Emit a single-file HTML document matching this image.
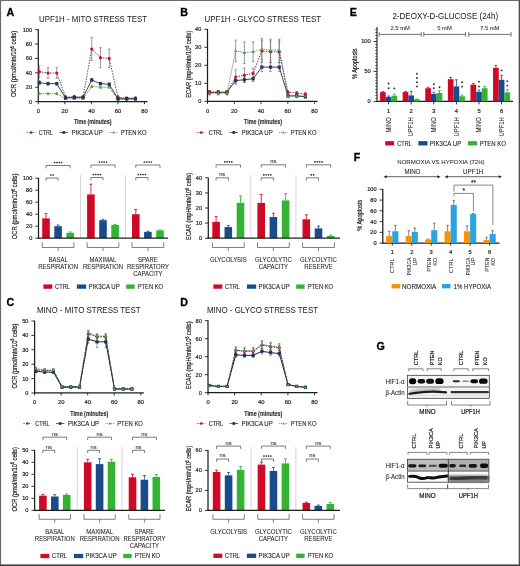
<!DOCTYPE html>
<html><head><meta charset="utf-8"><style>
html,body{margin:0;padding:0;background:#fff;width:520px;height:566px;overflow:hidden}
svg{display:block;filter:blur(0.3px)}
text{font-family:"Liberation Sans", sans-serif}
</style></head><body>
<svg width="520" height="566" viewBox="0 0 520 566" font-family='"Liberation Sans", sans-serif'><text x="6.6" y="15.85" font-size="10.7" stroke="#000" stroke-width="0.3" font-weight="bold" fill="#000">A</text>
<text x="39" y="22.15" font-size="8.2" stroke="#222" stroke-width="0.02" fill="#222" textLength="108" lengthAdjust="spacingAndGlyphs">UPF1H - MITO STRESS TEST</text>
<text x="0" y="0" transform="translate(16.3,97) rotate(-90)" font-size="7.5" font-weight="normal" fill="#1e1e1e" stroke="#1e1e1e" stroke-width="0.2" textLength="66.3" lengthAdjust="spacingAndGlyphs">OCR (pmol/min/10<tspan dy="-2.2" font-size="4.6">6</tspan><tspan dy="2.2"> cells)</tspan></text>
<line x1="38.3" y1="102.1" x2="38.3" y2="29.2" stroke="#1e1e1e" stroke-width="1.25"/>
<line x1="35.1" y1="101.6" x2="38.3" y2="101.6" stroke="#1e1e1e" stroke-width="0.9"/>
<text x="32.1" y="103.62" font-size="5.6" stroke="#262626" stroke-width="0.2" text-anchor="end" fill="#262626">0</text>
<line x1="35.1" y1="87.2" x2="38.3" y2="87.2" stroke="#1e1e1e" stroke-width="0.9"/>
<text x="32.1" y="89.22" font-size="5.6" stroke="#262626" stroke-width="0.2" text-anchor="end" fill="#262626">20</text>
<line x1="35.1" y1="72.8" x2="38.3" y2="72.8" stroke="#1e1e1e" stroke-width="0.9"/>
<text x="32.1" y="74.82" font-size="5.6" stroke="#262626" stroke-width="0.2" text-anchor="end" fill="#262626">40</text>
<line x1="35.1" y1="58.4" x2="38.3" y2="58.4" stroke="#1e1e1e" stroke-width="0.9"/>
<text x="32.1" y="60.42" font-size="5.6" stroke="#262626" stroke-width="0.2" text-anchor="end" fill="#262626">60</text>
<line x1="35.1" y1="44" x2="38.3" y2="44" stroke="#1e1e1e" stroke-width="0.9"/>
<text x="32.1" y="46.02" font-size="5.6" stroke="#262626" stroke-width="0.2" text-anchor="end" fill="#262626">80</text>
<line x1="35.1" y1="29.6" x2="38.3" y2="29.6" stroke="#1e1e1e" stroke-width="0.9"/>
<text x="32.1" y="31.62" font-size="5.6" stroke="#262626" stroke-width="0.2" text-anchor="end" fill="#262626">100</text>
<line x1="37.7" y1="101.6" x2="147.5" y2="101.6" stroke="#1e1e1e" stroke-width="1.25"/>
<line x1="38.3" y1="101.6" x2="38.3" y2="104.2" stroke="#1e1e1e" stroke-width="0.9"/>
<text x="38.3" y="112.89" font-size="5.8" stroke="#262626" stroke-width="0.2" text-anchor="middle" fill="#262626">0</text>
<line x1="64.85" y1="101.6" x2="64.85" y2="104.2" stroke="#1e1e1e" stroke-width="0.9"/>
<text x="64.85" y="112.89" font-size="5.8" stroke="#262626" stroke-width="0.2" text-anchor="middle" fill="#262626">20</text>
<line x1="91.4" y1="101.6" x2="91.4" y2="104.2" stroke="#1e1e1e" stroke-width="0.9"/>
<text x="91.4" y="112.89" font-size="5.8" stroke="#262626" stroke-width="0.2" text-anchor="middle" fill="#262626">40</text>
<line x1="117.95" y1="101.6" x2="117.95" y2="104.2" stroke="#1e1e1e" stroke-width="0.9"/>
<text x="117.95" y="112.89" font-size="5.8" stroke="#262626" stroke-width="0.2" text-anchor="middle" fill="#262626">60</text>
<line x1="144.5" y1="101.6" x2="144.5" y2="104.2" stroke="#1e1e1e" stroke-width="0.9"/>
<text x="144.5" y="112.89" font-size="5.8" stroke="#262626" stroke-width="0.2" text-anchor="middle" fill="#262626">80</text>
<line x1="39.3" y1="92.89" x2="39.3" y2="94.33" stroke="#5a5a5a" stroke-width="0.6"/>
<line x1="38.1" y1="92.89" x2="40.5" y2="92.89" stroke="#5a5a5a" stroke-width="0.6"/>
<line x1="38.1" y1="94.33" x2="40.5" y2="94.33" stroke="#5a5a5a" stroke-width="0.6"/>
<line x1="48.04" y1="92.89" x2="48.04" y2="94.33" stroke="#5a5a5a" stroke-width="0.6"/>
<line x1="46.84" y1="92.89" x2="49.24" y2="92.89" stroke="#5a5a5a" stroke-width="0.6"/>
<line x1="46.84" y1="94.33" x2="49.24" y2="94.33" stroke="#5a5a5a" stroke-width="0.6"/>
<line x1="56.78" y1="92.89" x2="56.78" y2="94.33" stroke="#5a5a5a" stroke-width="0.6"/>
<line x1="55.58" y1="92.89" x2="57.98" y2="92.89" stroke="#5a5a5a" stroke-width="0.6"/>
<line x1="55.58" y1="94.33" x2="57.98" y2="94.33" stroke="#5a5a5a" stroke-width="0.6"/>
<line x1="65.52" y1="98" x2="65.52" y2="99.44" stroke="#5a5a5a" stroke-width="0.6"/>
<line x1="64.32" y1="98" x2="66.72" y2="98" stroke="#5a5a5a" stroke-width="0.6"/>
<line x1="64.32" y1="99.44" x2="66.72" y2="99.44" stroke="#5a5a5a" stroke-width="0.6"/>
<line x1="74.26" y1="98" x2="74.26" y2="99.44" stroke="#5a5a5a" stroke-width="0.6"/>
<line x1="73.06" y1="98" x2="75.46" y2="98" stroke="#5a5a5a" stroke-width="0.6"/>
<line x1="73.06" y1="99.44" x2="75.46" y2="99.44" stroke="#5a5a5a" stroke-width="0.6"/>
<line x1="83" y1="98" x2="83" y2="99.44" stroke="#5a5a5a" stroke-width="0.6"/>
<line x1="81.8" y1="98" x2="84.2" y2="98" stroke="#5a5a5a" stroke-width="0.6"/>
<line x1="81.8" y1="99.44" x2="84.2" y2="99.44" stroke="#5a5a5a" stroke-width="0.6"/>
<line x1="91.74" y1="85.76" x2="91.74" y2="87.2" stroke="#5a5a5a" stroke-width="0.6"/>
<line x1="90.54" y1="85.76" x2="92.94" y2="85.76" stroke="#5a5a5a" stroke-width="0.6"/>
<line x1="90.54" y1="87.2" x2="92.94" y2="87.2" stroke="#5a5a5a" stroke-width="0.6"/>
<line x1="100.48" y1="86.48" x2="100.48" y2="87.92" stroke="#5a5a5a" stroke-width="0.6"/>
<line x1="99.28" y1="86.48" x2="101.68" y2="86.48" stroke="#5a5a5a" stroke-width="0.6"/>
<line x1="99.28" y1="87.92" x2="101.68" y2="87.92" stroke="#5a5a5a" stroke-width="0.6"/>
<line x1="109.22" y1="86.48" x2="109.22" y2="87.92" stroke="#5a5a5a" stroke-width="0.6"/>
<line x1="108.02" y1="86.48" x2="110.42" y2="86.48" stroke="#5a5a5a" stroke-width="0.6"/>
<line x1="108.02" y1="87.92" x2="110.42" y2="87.92" stroke="#5a5a5a" stroke-width="0.6"/>
<line x1="117.96" y1="98.72" x2="117.96" y2="100.16" stroke="#5a5a5a" stroke-width="0.6"/>
<line x1="116.76" y1="98.72" x2="119.16" y2="98.72" stroke="#5a5a5a" stroke-width="0.6"/>
<line x1="116.76" y1="100.16" x2="119.16" y2="100.16" stroke="#5a5a5a" stroke-width="0.6"/>
<line x1="126.7" y1="98.72" x2="126.7" y2="100.16" stroke="#5a5a5a" stroke-width="0.6"/>
<line x1="125.5" y1="98.72" x2="127.9" y2="98.72" stroke="#5a5a5a" stroke-width="0.6"/>
<line x1="125.5" y1="100.16" x2="127.9" y2="100.16" stroke="#5a5a5a" stroke-width="0.6"/>
<line x1="135.44" y1="98.72" x2="135.44" y2="100.16" stroke="#5a5a5a" stroke-width="0.6"/>
<line x1="134.24" y1="98.72" x2="136.64" y2="98.72" stroke="#5a5a5a" stroke-width="0.6"/>
<line x1="134.24" y1="100.16" x2="136.64" y2="100.16" stroke="#5a5a5a" stroke-width="0.6"/>
<line x1="39.3" y1="65.6" x2="39.3" y2="77.84" stroke="#5a5a5a" stroke-width="0.6"/>
<line x1="38.1" y1="65.6" x2="40.5" y2="65.6" stroke="#5a5a5a" stroke-width="0.6"/>
<line x1="38.1" y1="77.84" x2="40.5" y2="77.84" stroke="#5a5a5a" stroke-width="0.6"/>
<line x1="48.04" y1="67.62" x2="48.04" y2="78.42" stroke="#5a5a5a" stroke-width="0.6"/>
<line x1="46.84" y1="67.62" x2="49.24" y2="67.62" stroke="#5a5a5a" stroke-width="0.6"/>
<line x1="46.84" y1="78.42" x2="49.24" y2="78.42" stroke="#5a5a5a" stroke-width="0.6"/>
<line x1="56.78" y1="67.62" x2="56.78" y2="78.42" stroke="#5a5a5a" stroke-width="0.6"/>
<line x1="55.58" y1="67.62" x2="57.98" y2="67.62" stroke="#5a5a5a" stroke-width="0.6"/>
<line x1="55.58" y1="78.42" x2="57.98" y2="78.42" stroke="#5a5a5a" stroke-width="0.6"/>
<line x1="65.52" y1="95.48" x2="65.52" y2="98.36" stroke="#5a5a5a" stroke-width="0.6"/>
<line x1="64.32" y1="95.48" x2="66.72" y2="95.48" stroke="#5a5a5a" stroke-width="0.6"/>
<line x1="64.32" y1="98.36" x2="66.72" y2="98.36" stroke="#5a5a5a" stroke-width="0.6"/>
<line x1="74.26" y1="95.48" x2="74.26" y2="98.36" stroke="#5a5a5a" stroke-width="0.6"/>
<line x1="73.06" y1="95.48" x2="75.46" y2="95.48" stroke="#5a5a5a" stroke-width="0.6"/>
<line x1="73.06" y1="98.36" x2="75.46" y2="98.36" stroke="#5a5a5a" stroke-width="0.6"/>
<line x1="83" y1="95.84" x2="83" y2="98.72" stroke="#5a5a5a" stroke-width="0.6"/>
<line x1="81.8" y1="95.84" x2="84.2" y2="95.84" stroke="#5a5a5a" stroke-width="0.6"/>
<line x1="81.8" y1="98.72" x2="84.2" y2="98.72" stroke="#5a5a5a" stroke-width="0.6"/>
<line x1="91.74" y1="37.52" x2="91.74" y2="60.56" stroke="#5a5a5a" stroke-width="0.6"/>
<line x1="90.54" y1="37.52" x2="92.94" y2="37.52" stroke="#5a5a5a" stroke-width="0.6"/>
<line x1="90.54" y1="60.56" x2="92.94" y2="60.56" stroke="#5a5a5a" stroke-width="0.6"/>
<line x1="100.48" y1="47.6" x2="100.48" y2="67.76" stroke="#5a5a5a" stroke-width="0.6"/>
<line x1="99.28" y1="47.6" x2="101.68" y2="47.6" stroke="#5a5a5a" stroke-width="0.6"/>
<line x1="99.28" y1="67.76" x2="101.68" y2="67.76" stroke="#5a5a5a" stroke-width="0.6"/>
<line x1="109.22" y1="49.04" x2="109.22" y2="67.76" stroke="#5a5a5a" stroke-width="0.6"/>
<line x1="108.02" y1="49.04" x2="110.42" y2="49.04" stroke="#5a5a5a" stroke-width="0.6"/>
<line x1="108.02" y1="67.76" x2="110.42" y2="67.76" stroke="#5a5a5a" stroke-width="0.6"/>
<line x1="117.96" y1="95.84" x2="117.96" y2="98.72" stroke="#5a5a5a" stroke-width="0.6"/>
<line x1="116.76" y1="95.84" x2="119.16" y2="95.84" stroke="#5a5a5a" stroke-width="0.6"/>
<line x1="116.76" y1="98.72" x2="119.16" y2="98.72" stroke="#5a5a5a" stroke-width="0.6"/>
<line x1="126.7" y1="96.92" x2="126.7" y2="99.08" stroke="#5a5a5a" stroke-width="0.6"/>
<line x1="125.5" y1="96.92" x2="127.9" y2="96.92" stroke="#5a5a5a" stroke-width="0.6"/>
<line x1="125.5" y1="99.08" x2="127.9" y2="99.08" stroke="#5a5a5a" stroke-width="0.6"/>
<line x1="135.44" y1="96.92" x2="135.44" y2="99.08" stroke="#5a5a5a" stroke-width="0.6"/>
<line x1="134.24" y1="96.92" x2="136.64" y2="96.92" stroke="#5a5a5a" stroke-width="0.6"/>
<line x1="134.24" y1="99.08" x2="136.64" y2="99.08" stroke="#5a5a5a" stroke-width="0.6"/>
<line x1="39.3" y1="80.58" x2="39.3" y2="84.9" stroke="#5a5a5a" stroke-width="0.6"/>
<line x1="38.1" y1="80.58" x2="40.5" y2="80.58" stroke="#5a5a5a" stroke-width="0.6"/>
<line x1="38.1" y1="84.9" x2="40.5" y2="84.9" stroke="#5a5a5a" stroke-width="0.6"/>
<line x1="48.04" y1="82.23" x2="48.04" y2="85.11" stroke="#5a5a5a" stroke-width="0.6"/>
<line x1="46.84" y1="82.23" x2="49.24" y2="82.23" stroke="#5a5a5a" stroke-width="0.6"/>
<line x1="46.84" y1="85.11" x2="49.24" y2="85.11" stroke="#5a5a5a" stroke-width="0.6"/>
<line x1="56.78" y1="82.23" x2="56.78" y2="85.11" stroke="#5a5a5a" stroke-width="0.6"/>
<line x1="55.58" y1="82.23" x2="57.98" y2="82.23" stroke="#5a5a5a" stroke-width="0.6"/>
<line x1="55.58" y1="85.11" x2="57.98" y2="85.11" stroke="#5a5a5a" stroke-width="0.6"/>
<line x1="65.52" y1="97.28" x2="65.52" y2="98.72" stroke="#5a5a5a" stroke-width="0.6"/>
<line x1="64.32" y1="97.28" x2="66.72" y2="97.28" stroke="#5a5a5a" stroke-width="0.6"/>
<line x1="64.32" y1="98.72" x2="66.72" y2="98.72" stroke="#5a5a5a" stroke-width="0.6"/>
<line x1="74.26" y1="96.56" x2="74.26" y2="98" stroke="#5a5a5a" stroke-width="0.6"/>
<line x1="73.06" y1="96.56" x2="75.46" y2="96.56" stroke="#5a5a5a" stroke-width="0.6"/>
<line x1="73.06" y1="98" x2="75.46" y2="98" stroke="#5a5a5a" stroke-width="0.6"/>
<line x1="83" y1="96.56" x2="83" y2="98" stroke="#5a5a5a" stroke-width="0.6"/>
<line x1="81.8" y1="96.56" x2="84.2" y2="96.56" stroke="#5a5a5a" stroke-width="0.6"/>
<line x1="81.8" y1="98" x2="84.2" y2="98" stroke="#5a5a5a" stroke-width="0.6"/>
<line x1="91.74" y1="78.56" x2="91.74" y2="81.44" stroke="#5a5a5a" stroke-width="0.6"/>
<line x1="90.54" y1="78.56" x2="92.94" y2="78.56" stroke="#5a5a5a" stroke-width="0.6"/>
<line x1="90.54" y1="81.44" x2="92.94" y2="81.44" stroke="#5a5a5a" stroke-width="0.6"/>
<line x1="100.48" y1="82.16" x2="100.48" y2="85.04" stroke="#5a5a5a" stroke-width="0.6"/>
<line x1="99.28" y1="82.16" x2="101.68" y2="82.16" stroke="#5a5a5a" stroke-width="0.6"/>
<line x1="99.28" y1="85.04" x2="101.68" y2="85.04" stroke="#5a5a5a" stroke-width="0.6"/>
<line x1="109.22" y1="82.88" x2="109.22" y2="85.76" stroke="#5a5a5a" stroke-width="0.6"/>
<line x1="108.02" y1="82.88" x2="110.42" y2="82.88" stroke="#5a5a5a" stroke-width="0.6"/>
<line x1="108.02" y1="85.76" x2="110.42" y2="85.76" stroke="#5a5a5a" stroke-width="0.6"/>
<line x1="117.96" y1="98" x2="117.96" y2="99.44" stroke="#5a5a5a" stroke-width="0.6"/>
<line x1="116.76" y1="98" x2="119.16" y2="98" stroke="#5a5a5a" stroke-width="0.6"/>
<line x1="116.76" y1="99.44" x2="119.16" y2="99.44" stroke="#5a5a5a" stroke-width="0.6"/>
<line x1="126.7" y1="98" x2="126.7" y2="99.44" stroke="#5a5a5a" stroke-width="0.6"/>
<line x1="125.5" y1="98" x2="127.9" y2="98" stroke="#5a5a5a" stroke-width="0.6"/>
<line x1="125.5" y1="99.44" x2="127.9" y2="99.44" stroke="#5a5a5a" stroke-width="0.6"/>
<line x1="135.44" y1="98" x2="135.44" y2="99.44" stroke="#5a5a5a" stroke-width="0.6"/>
<line x1="134.24" y1="98" x2="136.64" y2="98" stroke="#5a5a5a" stroke-width="0.6"/>
<line x1="134.24" y1="99.44" x2="136.64" y2="99.44" stroke="#5a5a5a" stroke-width="0.6"/>
<polyline points="39.3,93.61 48.04,93.61 56.78,93.61 65.52,98.72 74.26,98.72 83,98.72 91.74,86.48 100.48,87.2 109.22,87.2 117.96,99.44 126.7,99.44 135.44,99.44" fill="none" stroke="#2f5f2f" stroke-width="0.85" stroke-dasharray="0.9,0.9"/>
<polyline points="39.3,71.72 48.04,73.02 56.78,73.02 65.52,96.92 74.26,96.92 83,97.28 91.74,49.04 100.48,57.68 109.22,58.4 117.96,97.28 126.7,98 135.44,98" fill="none" stroke="#5a2030" stroke-width="0.85" stroke-dasharray="1.5,1.2"/>
<polyline points="39.3,82.74 48.04,83.67 56.78,83.67 65.52,98 74.26,97.28 83,97.28 91.74,80 100.48,83.6 109.22,84.32 117.96,98.72 126.7,98.72 135.44,98.72" fill="none" stroke="#1a2238" stroke-width="0.85"/>
<path d="M39.3,91.91 L40.9,94.81 L37.7,94.81 Z" fill="#46a846"/>
<path d="M48.04,91.91 L49.64,94.81 L46.44,94.81 Z" fill="#46a846"/>
<path d="M56.78,91.91 L58.38,94.81 L55.18,94.81 Z" fill="#46a846"/>
<path d="M65.52,97.02 L67.12,99.92 L63.92,99.92 Z" fill="#46a846"/>
<path d="M74.26,97.02 L75.86,99.92 L72.66,99.92 Z" fill="#46a846"/>
<path d="M83,97.02 L84.6,99.92 L81.4,99.92 Z" fill="#46a846"/>
<path d="M91.74,84.78 L93.34,87.68 L90.14,87.68 Z" fill="#46a846"/>
<path d="M100.48,85.5 L102.08,88.4 L98.88,88.4 Z" fill="#46a846"/>
<path d="M109.22,85.5 L110.82,88.4 L107.62,88.4 Z" fill="#46a846"/>
<path d="M117.96,97.74 L119.56,100.64 L116.36,100.64 Z" fill="#46a846"/>
<path d="M126.7,97.74 L128.3,100.64 L125.1,100.64 Z" fill="#46a846"/>
<path d="M135.44,97.74 L137.04,100.64 L133.84,100.64 Z" fill="#46a846"/>
<circle cx="39.3" cy="71.72" r="1.6" fill="#c4102c"/>
<circle cx="48.04" cy="73.02" r="1.6" fill="#c4102c"/>
<circle cx="56.78" cy="73.02" r="1.6" fill="#c4102c"/>
<circle cx="65.52" cy="96.92" r="1.6" fill="#c4102c"/>
<circle cx="74.26" cy="96.92" r="1.6" fill="#c4102c"/>
<circle cx="83" cy="97.28" r="1.6" fill="#c4102c"/>
<circle cx="91.74" cy="49.04" r="1.6" fill="#c4102c"/>
<circle cx="100.48" cy="57.68" r="1.6" fill="#c4102c"/>
<circle cx="109.22" cy="58.4" r="1.6" fill="#c4102c"/>
<circle cx="117.96" cy="97.28" r="1.6" fill="#c4102c"/>
<circle cx="126.7" cy="98" r="1.6" fill="#c4102c"/>
<circle cx="135.44" cy="98" r="1.6" fill="#c4102c"/>
<rect x="37.7" y="81.14" width="3.2" height="3.2" fill="#1c3260" />
<rect x="46.44" y="82.07" width="3.2" height="3.2" fill="#1c3260" />
<rect x="55.18" y="82.07" width="3.2" height="3.2" fill="#1c3260" />
<rect x="63.92" y="96.4" width="3.2" height="3.2" fill="#1c3260" />
<rect x="72.66" y="95.68" width="3.2" height="3.2" fill="#1c3260" />
<rect x="81.4" y="95.68" width="3.2" height="3.2" fill="#1c3260" />
<rect x="90.14" y="78.4" width="3.2" height="3.2" fill="#1c3260" />
<rect x="98.88" y="82" width="3.2" height="3.2" fill="#1c3260" />
<rect x="107.62" y="82.72" width="3.2" height="3.2" fill="#1c3260" />
<rect x="116.36" y="97.12" width="3.2" height="3.2" fill="#1c3260" />
<rect x="125.1" y="97.12" width="3.2" height="3.2" fill="#1c3260" />
<rect x="133.84" y="97.12" width="3.2" height="3.2" fill="#1c3260" />
<text x="73.9" y="124.08" font-size="8" stroke="#333" stroke-width="0.2" font-weight="bold" fill="#333" textLength="37.5" lengthAdjust="spacingAndGlyphs">Time (minutes)</text>
<line x1="26.9" y1="132.5" x2="35.3" y2="132.5" stroke="#5a2030" stroke-width="0.7" stroke-dasharray="1.5,1.2"/>
<circle cx="31.1" cy="132.5" r="1.36" fill="#c4102c"/>
<text x="38.8" y="134.88" font-size="6.6" stroke="#222" stroke-width="0.1" fill="#222" textLength="14.3" lengthAdjust="spacingAndGlyphs">CTRL</text>
<line x1="59.6" y1="132.5" x2="68" y2="132.5" stroke="#1a2238" stroke-width="0.7"/>
<rect x="62.44" y="131.14" width="2.72" height="2.72" fill="#1c3260" />
<text x="71.5" y="134.88" font-size="6.6" stroke="#222" stroke-width="0.1" fill="#222" textLength="31.2" lengthAdjust="spacingAndGlyphs">PIK3CA UP</text>
<line x1="109.3" y1="132.5" x2="117.7" y2="132.5" stroke="#2f5f2f" stroke-width="0.7" stroke-dasharray="0.9,0.9"/>
<path d="M113.5,131.06 L114.86,133.52 L112.14,133.52 Z" fill="#46a846"/>
<text x="120.8" y="134.88" font-size="6.6" stroke="#222" stroke-width="0.1" fill="#222" textLength="25.7" lengthAdjust="spacingAndGlyphs">PTEN KO</text>
<text x="0" y="0" transform="translate(16.7,239.2) rotate(-90)" font-size="7.5" font-weight="normal" fill="#1e1e1e" stroke="#1e1e1e" stroke-width="0.2" textLength="65.7" lengthAdjust="spacingAndGlyphs">OCR (pmol/min/10<tspan dy="-2.2" font-size="4.6">6</tspan><tspan dy="2.2"> cells)</tspan></text>
<line x1="46" y1="213.6" x2="46" y2="218.4" stroke="#d00a26" stroke-width="0.85"/>
<line x1="44.5" y1="213.6" x2="47.5" y2="213.6" stroke="#d00a26" stroke-width="0.85"/>
<rect x="42.2" y="218.4" width="7.6" height="19.8" fill="#d00a26" />
<line x1="58.1" y1="225" x2="58.1" y2="226.2" stroke="#1a4c8c" stroke-width="0.85"/>
<line x1="56.6" y1="225" x2="59.6" y2="225" stroke="#1a4c8c" stroke-width="0.85"/>
<rect x="54.3" y="226.2" width="7.6" height="12" fill="#1a4c8c" />
<line x1="70.2" y1="231.9" x2="70.2" y2="232.8" stroke="#33b233" stroke-width="0.85"/>
<line x1="68.7" y1="231.9" x2="71.7" y2="231.9" stroke="#33b233" stroke-width="0.85"/>
<rect x="66.4" y="232.8" width="7.6" height="5.4" fill="#33b233" />
<polyline points="42.3,242.3 42.3,247.5 73.9,247.5 73.9,242.3" fill="none" stroke="#4a4a4a" stroke-width="0.7"/>
<line x1="58.1" y1="247.5" x2="58.1" y2="251" stroke="#4a4a4a" stroke-width="0.7"/>
<polyline points="46,168.3 46,165.5 70.2,165.5 70.2,168.3" fill="none" stroke="#5a5a5a" stroke-width="0.8"/>
<circle cx="54.58" cy="162.5" r="0.85" fill="#262626"/>
<circle cx="56.93" cy="162.5" r="0.85" fill="#262626"/>
<circle cx="59.27" cy="162.5" r="0.85" fill="#262626"/>
<circle cx="61.62" cy="162.5" r="0.85" fill="#262626"/>
<polyline points="46,180.8 46,178 58.1,178 58.1,180.8" fill="none" stroke="#5a5a5a" stroke-width="0.8"/>
<circle cx="50.88" cy="175" r="0.85" fill="#262626"/>
<circle cx="53.22" cy="175" r="0.85" fill="#262626"/>
<text x="58.1" y="261.7" font-size="6.4" stroke="#2a2a2a" stroke-width="0.08" text-anchor="middle" fill="#2a2a2a" textLength="19.19" lengthAdjust="spacingAndGlyphs">BASAL</text>
<text x="58.1" y="268.9" font-size="6.4" stroke="#2a2a2a" stroke-width="0.08" text-anchor="middle" fill="#2a2a2a" textLength="39.91" lengthAdjust="spacingAndGlyphs">RESPIRATION</text>
<line x1="90.9" y1="184.2" x2="90.9" y2="194.4" stroke="#d00a26" stroke-width="0.85"/>
<line x1="89.4" y1="184.2" x2="92.4" y2="184.2" stroke="#d00a26" stroke-width="0.85"/>
<rect x="87.1" y="194.4" width="7.6" height="43.8" fill="#d00a26" />
<line x1="103" y1="219.3" x2="103" y2="220.2" stroke="#1a4c8c" stroke-width="0.85"/>
<line x1="101.5" y1="219.3" x2="104.5" y2="219.3" stroke="#1a4c8c" stroke-width="0.85"/>
<rect x="99.2" y="220.2" width="7.6" height="18" fill="#1a4c8c" />
<line x1="115.1" y1="224.4" x2="115.1" y2="225" stroke="#33b233" stroke-width="0.85"/>
<line x1="113.6" y1="224.4" x2="116.6" y2="224.4" stroke="#33b233" stroke-width="0.85"/>
<rect x="111.3" y="225" width="7.6" height="13.2" fill="#33b233" />
<polyline points="87.2,242.3 87.2,247.5 118.8,247.5 118.8,242.3" fill="none" stroke="#4a4a4a" stroke-width="0.7"/>
<line x1="103" y1="247.5" x2="103" y2="251" stroke="#4a4a4a" stroke-width="0.7"/>
<line x1="80.55" y1="175" x2="80.55" y2="238.2" stroke="#c4c4c4" stroke-width="0.7"/>
<polyline points="90.9,167.8 90.9,165 115.1,165 115.1,167.8" fill="none" stroke="#5a5a5a" stroke-width="0.8"/>
<circle cx="99.47" cy="162" r="0.85" fill="#262626"/>
<circle cx="101.83" cy="162" r="0.85" fill="#262626"/>
<circle cx="104.17" cy="162" r="0.85" fill="#262626"/>
<circle cx="106.53" cy="162" r="0.85" fill="#262626"/>
<polyline points="90.9,180.3 90.9,177.5 103,177.5 103,180.3" fill="none" stroke="#5a5a5a" stroke-width="0.8"/>
<circle cx="93.42" cy="174.5" r="0.85" fill="#262626"/>
<circle cx="95.77" cy="174.5" r="0.85" fill="#262626"/>
<circle cx="98.12" cy="174.5" r="0.85" fill="#262626"/>
<circle cx="100.47" cy="174.5" r="0.85" fill="#262626"/>
<text x="103" y="261.7" font-size="6.4" stroke="#2a2a2a" stroke-width="0.08" text-anchor="middle" fill="#2a2a2a" textLength="26.79" lengthAdjust="spacingAndGlyphs">MAXIMAL</text>
<text x="103" y="268.9" font-size="6.4" stroke="#2a2a2a" stroke-width="0.08" text-anchor="middle" fill="#2a2a2a" textLength="39.91" lengthAdjust="spacingAndGlyphs">RESPIRATION</text>
<line x1="135.8" y1="209.4" x2="135.8" y2="214.2" stroke="#d00a26" stroke-width="0.85"/>
<line x1="134.3" y1="209.4" x2="137.3" y2="209.4" stroke="#d00a26" stroke-width="0.85"/>
<rect x="132" y="214.2" width="7.6" height="24" fill="#d00a26" />
<line x1="147.9" y1="231.3" x2="147.9" y2="231.9" stroke="#1a4c8c" stroke-width="0.85"/>
<line x1="146.4" y1="231.3" x2="149.4" y2="231.3" stroke="#1a4c8c" stroke-width="0.85"/>
<rect x="144.1" y="231.9" width="7.6" height="6.3" fill="#1a4c8c" />
<line x1="160" y1="229.92" x2="160" y2="230.4" stroke="#33b233" stroke-width="0.85"/>
<line x1="158.5" y1="229.92" x2="161.5" y2="229.92" stroke="#33b233" stroke-width="0.85"/>
<rect x="156.2" y="230.4" width="7.6" height="7.8" fill="#33b233" />
<polyline points="132.1,242.3 132.1,247.5 163.7,247.5 163.7,242.3" fill="none" stroke="#4a4a4a" stroke-width="0.7"/>
<line x1="147.9" y1="247.5" x2="147.9" y2="251" stroke="#4a4a4a" stroke-width="0.7"/>
<line x1="125.45" y1="175" x2="125.45" y2="238.2" stroke="#c4c4c4" stroke-width="0.7"/>
<polyline points="135.8,167.8 135.8,165 160,165 160,167.8" fill="none" stroke="#5a5a5a" stroke-width="0.8"/>
<circle cx="144.38" cy="162" r="0.85" fill="#262626"/>
<circle cx="146.72" cy="162" r="0.85" fill="#262626"/>
<circle cx="149.08" cy="162" r="0.85" fill="#262626"/>
<circle cx="151.43" cy="162" r="0.85" fill="#262626"/>
<polyline points="135.8,180.3 135.8,177.5 147.9,177.5 147.9,180.3" fill="none" stroke="#5a5a5a" stroke-width="0.8"/>
<circle cx="138.33" cy="174.5" r="0.85" fill="#262626"/>
<circle cx="140.68" cy="174.5" r="0.85" fill="#262626"/>
<circle cx="143.03" cy="174.5" r="0.85" fill="#262626"/>
<circle cx="145.38" cy="174.5" r="0.85" fill="#262626"/>
<text x="147.9" y="261.7" font-size="6.4" stroke="#2a2a2a" stroke-width="0.08" text-anchor="middle" fill="#2a2a2a" textLength="19.74" lengthAdjust="spacingAndGlyphs">SPARE</text>
<text x="147.9" y="268.9" font-size="6.4" stroke="#2a2a2a" stroke-width="0.08" text-anchor="middle" fill="#2a2a2a" textLength="42.01" lengthAdjust="spacingAndGlyphs">RESPIRATORY</text>
<text x="147.9" y="276.1" font-size="6.4" stroke="#2a2a2a" stroke-width="0.08" text-anchor="middle" fill="#2a2a2a" textLength="29.32" lengthAdjust="spacingAndGlyphs">CAPACITY</text>
<line x1="37.9" y1="238.2" x2="168" y2="238.2" stroke="#1e1e1e" stroke-width="1.25"/>
<line x1="38.5" y1="238.7" x2="38.5" y2="177.8" stroke="#1e1e1e" stroke-width="1.25"/>
<line x1="35.3" y1="238.2" x2="38.5" y2="238.2" stroke="#1e1e1e" stroke-width="0.9"/>
<text x="32.3" y="240.22" font-size="5.6" stroke="#262626" stroke-width="0.2" text-anchor="end" fill="#262626">0</text>
<line x1="35.3" y1="226.2" x2="38.5" y2="226.2" stroke="#1e1e1e" stroke-width="0.9"/>
<text x="32.3" y="228.22" font-size="5.6" stroke="#262626" stroke-width="0.2" text-anchor="end" fill="#262626">20</text>
<line x1="35.3" y1="214.2" x2="38.5" y2="214.2" stroke="#1e1e1e" stroke-width="0.9"/>
<text x="32.3" y="216.22" font-size="5.6" stroke="#262626" stroke-width="0.2" text-anchor="end" fill="#262626">40</text>
<line x1="35.3" y1="202.2" x2="38.5" y2="202.2" stroke="#1e1e1e" stroke-width="0.9"/>
<text x="32.3" y="204.22" font-size="5.6" stroke="#262626" stroke-width="0.2" text-anchor="end" fill="#262626">60</text>
<line x1="35.3" y1="190.2" x2="38.5" y2="190.2" stroke="#1e1e1e" stroke-width="0.9"/>
<text x="32.3" y="192.22" font-size="5.6" stroke="#262626" stroke-width="0.2" text-anchor="end" fill="#262626">80</text>
<line x1="35.3" y1="178.2" x2="38.5" y2="178.2" stroke="#1e1e1e" stroke-width="0.9"/>
<text x="32.3" y="180.22" font-size="5.6" stroke="#262626" stroke-width="0.2" text-anchor="end" fill="#262626">100</text>
<rect x="43.4" y="284.45" width="8.9" height="4.3" fill="#d00a26" />
<text x="55.1" y="288.98" font-size="6.6" stroke="#222" stroke-width="0.1" fill="#222" textLength="14.9" lengthAdjust="spacingAndGlyphs">CTRL</text>
<rect x="76.9" y="284.45" width="9.3" height="4.3" fill="#1a4c8c" />
<text x="88.5" y="288.98" font-size="6.6" stroke="#222" stroke-width="0.1" fill="#222" textLength="31.2" lengthAdjust="spacingAndGlyphs">PIK3CA UP</text>
<rect x="126.2" y="284.45" width="8.4" height="4.3" fill="#33b233" />
<text x="137.7" y="288.98" font-size="6.6" stroke="#222" stroke-width="0.1" fill="#222" textLength="25.4" lengthAdjust="spacingAndGlyphs">PTEN KO</text>
<text x="180.2" y="15.85" font-size="10.7" stroke="#000" stroke-width="0.3" font-weight="bold" fill="#000">B</text>
<text x="204.5" y="22.15" font-size="8.2" stroke="#222" stroke-width="0.02" fill="#222" textLength="116.7" lengthAdjust="spacingAndGlyphs">UPF1H - GLYCO STRESS TEST</text>
<text x="0" y="0" transform="translate(191.1,97.8) rotate(-90)" font-size="7.5" font-weight="normal" fill="#1e1e1e" stroke="#1e1e1e" stroke-width="0.2" textLength="67.1" lengthAdjust="spacingAndGlyphs">ECAR (mpH/min/10<tspan dy="-2.2" font-size="4.6">6</tspan><tspan dy="2.2"> cells)</tspan></text>
<line x1="207.5" y1="101.8" x2="207.5" y2="28.9" stroke="#1e1e1e" stroke-width="1.25"/>
<line x1="204.3" y1="101.3" x2="207.5" y2="101.3" stroke="#1e1e1e" stroke-width="0.9"/>
<text x="201.3" y="103.32" font-size="5.6" stroke="#262626" stroke-width="0.2" text-anchor="end" fill="#262626">0</text>
<line x1="204.3" y1="83.3" x2="207.5" y2="83.3" stroke="#1e1e1e" stroke-width="0.9"/>
<text x="201.3" y="85.32" font-size="5.6" stroke="#262626" stroke-width="0.2" text-anchor="end" fill="#262626">10</text>
<line x1="204.3" y1="65.3" x2="207.5" y2="65.3" stroke="#1e1e1e" stroke-width="0.9"/>
<text x="201.3" y="67.32" font-size="5.6" stroke="#262626" stroke-width="0.2" text-anchor="end" fill="#262626">20</text>
<line x1="204.3" y1="47.3" x2="207.5" y2="47.3" stroke="#1e1e1e" stroke-width="0.9"/>
<text x="201.3" y="49.32" font-size="5.6" stroke="#262626" stroke-width="0.2" text-anchor="end" fill="#262626">30</text>
<line x1="204.3" y1="29.3" x2="207.5" y2="29.3" stroke="#1e1e1e" stroke-width="0.9"/>
<text x="201.3" y="31.32" font-size="5.6" stroke="#262626" stroke-width="0.2" text-anchor="end" fill="#262626">40</text>
<line x1="206.9" y1="101.3" x2="317.6" y2="101.3" stroke="#1e1e1e" stroke-width="1.25"/>
<line x1="207.5" y1="101.3" x2="207.5" y2="103.9" stroke="#1e1e1e" stroke-width="0.9"/>
<text x="207.5" y="112.89" font-size="5.8" stroke="#262626" stroke-width="0.2" text-anchor="middle" fill="#262626">0</text>
<line x1="234.28" y1="101.3" x2="234.28" y2="103.9" stroke="#1e1e1e" stroke-width="0.9"/>
<text x="234.28" y="112.89" font-size="5.8" stroke="#262626" stroke-width="0.2" text-anchor="middle" fill="#262626">20</text>
<line x1="261.05" y1="101.3" x2="261.05" y2="103.9" stroke="#1e1e1e" stroke-width="0.9"/>
<text x="261.05" y="112.89" font-size="5.8" stroke="#262626" stroke-width="0.2" text-anchor="middle" fill="#262626">40</text>
<line x1="287.83" y1="101.3" x2="287.83" y2="103.9" stroke="#1e1e1e" stroke-width="0.9"/>
<text x="287.83" y="112.89" font-size="5.8" stroke="#262626" stroke-width="0.2" text-anchor="middle" fill="#262626">60</text>
<line x1="314.6" y1="101.3" x2="314.6" y2="103.9" stroke="#1e1e1e" stroke-width="0.9"/>
<text x="314.6" y="112.89" font-size="5.8" stroke="#262626" stroke-width="0.2" text-anchor="middle" fill="#262626">80</text>
<line x1="209.5" y1="90.5" x2="209.5" y2="94.1" stroke="#5a5a5a" stroke-width="0.6"/>
<line x1="208.3" y1="90.5" x2="210.7" y2="90.5" stroke="#5a5a5a" stroke-width="0.6"/>
<line x1="208.3" y1="94.1" x2="210.7" y2="94.1" stroke="#5a5a5a" stroke-width="0.6"/>
<line x1="218.22" y1="90.5" x2="218.22" y2="94.1" stroke="#5a5a5a" stroke-width="0.6"/>
<line x1="217.02" y1="90.5" x2="219.42" y2="90.5" stroke="#5a5a5a" stroke-width="0.6"/>
<line x1="217.02" y1="94.1" x2="219.42" y2="94.1" stroke="#5a5a5a" stroke-width="0.6"/>
<line x1="226.94" y1="90.5" x2="226.94" y2="94.1" stroke="#5a5a5a" stroke-width="0.6"/>
<line x1="225.74" y1="90.5" x2="228.14" y2="90.5" stroke="#5a5a5a" stroke-width="0.6"/>
<line x1="225.74" y1="94.1" x2="228.14" y2="94.1" stroke="#5a5a5a" stroke-width="0.6"/>
<line x1="235.66" y1="77.9" x2="235.66" y2="83.3" stroke="#5a5a5a" stroke-width="0.6"/>
<line x1="234.46" y1="77.9" x2="236.86" y2="77.9" stroke="#5a5a5a" stroke-width="0.6"/>
<line x1="234.46" y1="83.3" x2="236.86" y2="83.3" stroke="#5a5a5a" stroke-width="0.6"/>
<line x1="244.38" y1="77" x2="244.38" y2="82.4" stroke="#5a5a5a" stroke-width="0.6"/>
<line x1="243.18" y1="77" x2="245.58" y2="77" stroke="#5a5a5a" stroke-width="0.6"/>
<line x1="243.18" y1="82.4" x2="245.58" y2="82.4" stroke="#5a5a5a" stroke-width="0.6"/>
<line x1="253.1" y1="76.1" x2="253.1" y2="81.5" stroke="#5a5a5a" stroke-width="0.6"/>
<line x1="251.9" y1="76.1" x2="254.3" y2="76.1" stroke="#5a5a5a" stroke-width="0.6"/>
<line x1="251.9" y1="81.5" x2="254.3" y2="81.5" stroke="#5a5a5a" stroke-width="0.6"/>
<line x1="261.82" y1="62.6" x2="261.82" y2="71.6" stroke="#5a5a5a" stroke-width="0.6"/>
<line x1="260.62" y1="62.6" x2="263.02" y2="62.6" stroke="#5a5a5a" stroke-width="0.6"/>
<line x1="260.62" y1="71.6" x2="263.02" y2="71.6" stroke="#5a5a5a" stroke-width="0.6"/>
<line x1="270.54" y1="62.6" x2="270.54" y2="71.6" stroke="#5a5a5a" stroke-width="0.6"/>
<line x1="269.34" y1="62.6" x2="271.74" y2="62.6" stroke="#5a5a5a" stroke-width="0.6"/>
<line x1="269.34" y1="71.6" x2="271.74" y2="71.6" stroke="#5a5a5a" stroke-width="0.6"/>
<line x1="279.26" y1="62.6" x2="279.26" y2="71.6" stroke="#5a5a5a" stroke-width="0.6"/>
<line x1="278.06" y1="62.6" x2="280.46" y2="62.6" stroke="#5a5a5a" stroke-width="0.6"/>
<line x1="278.06" y1="71.6" x2="280.46" y2="71.6" stroke="#5a5a5a" stroke-width="0.6"/>
<line x1="287.98" y1="95" x2="287.98" y2="96.8" stroke="#5a5a5a" stroke-width="0.6"/>
<line x1="286.78" y1="95" x2="289.18" y2="95" stroke="#5a5a5a" stroke-width="0.6"/>
<line x1="286.78" y1="96.8" x2="289.18" y2="96.8" stroke="#5a5a5a" stroke-width="0.6"/>
<line x1="296.7" y1="95" x2="296.7" y2="96.8" stroke="#5a5a5a" stroke-width="0.6"/>
<line x1="295.5" y1="95" x2="297.9" y2="95" stroke="#5a5a5a" stroke-width="0.6"/>
<line x1="295.5" y1="96.8" x2="297.9" y2="96.8" stroke="#5a5a5a" stroke-width="0.6"/>
<line x1="305.42" y1="95.9" x2="305.42" y2="97.7" stroke="#5a5a5a" stroke-width="0.6"/>
<line x1="304.22" y1="95.9" x2="306.62" y2="95.9" stroke="#5a5a5a" stroke-width="0.6"/>
<line x1="304.22" y1="97.7" x2="306.62" y2="97.7" stroke="#5a5a5a" stroke-width="0.6"/>
<line x1="209.5" y1="90.5" x2="209.5" y2="94.1" stroke="#5a5a5a" stroke-width="0.6"/>
<line x1="208.3" y1="90.5" x2="210.7" y2="90.5" stroke="#5a5a5a" stroke-width="0.6"/>
<line x1="208.3" y1="94.1" x2="210.7" y2="94.1" stroke="#5a5a5a" stroke-width="0.6"/>
<line x1="218.22" y1="90.5" x2="218.22" y2="94.1" stroke="#5a5a5a" stroke-width="0.6"/>
<line x1="217.02" y1="90.5" x2="219.42" y2="90.5" stroke="#5a5a5a" stroke-width="0.6"/>
<line x1="217.02" y1="94.1" x2="219.42" y2="94.1" stroke="#5a5a5a" stroke-width="0.6"/>
<line x1="226.94" y1="90.5" x2="226.94" y2="94.1" stroke="#5a5a5a" stroke-width="0.6"/>
<line x1="225.74" y1="90.5" x2="228.14" y2="90.5" stroke="#5a5a5a" stroke-width="0.6"/>
<line x1="225.74" y1="94.1" x2="228.14" y2="94.1" stroke="#5a5a5a" stroke-width="0.6"/>
<line x1="235.66" y1="69.8" x2="235.66" y2="84.2" stroke="#5a5a5a" stroke-width="0.6"/>
<line x1="234.46" y1="69.8" x2="236.86" y2="69.8" stroke="#5a5a5a" stroke-width="0.6"/>
<line x1="234.46" y1="84.2" x2="236.86" y2="84.2" stroke="#5a5a5a" stroke-width="0.6"/>
<line x1="244.38" y1="68" x2="244.38" y2="82.4" stroke="#5a5a5a" stroke-width="0.6"/>
<line x1="243.18" y1="68" x2="245.58" y2="68" stroke="#5a5a5a" stroke-width="0.6"/>
<line x1="243.18" y1="82.4" x2="245.58" y2="82.4" stroke="#5a5a5a" stroke-width="0.6"/>
<line x1="253.1" y1="68" x2="253.1" y2="78.8" stroke="#5a5a5a" stroke-width="0.6"/>
<line x1="251.9" y1="68" x2="254.3" y2="68" stroke="#5a5a5a" stroke-width="0.6"/>
<line x1="251.9" y1="78.8" x2="254.3" y2="78.8" stroke="#5a5a5a" stroke-width="0.6"/>
<line x1="261.82" y1="40.1" x2="261.82" y2="61.7" stroke="#5a5a5a" stroke-width="0.6"/>
<line x1="260.62" y1="40.1" x2="263.02" y2="40.1" stroke="#5a5a5a" stroke-width="0.6"/>
<line x1="260.62" y1="61.7" x2="263.02" y2="61.7" stroke="#5a5a5a" stroke-width="0.6"/>
<line x1="270.54" y1="41" x2="270.54" y2="62.6" stroke="#5a5a5a" stroke-width="0.6"/>
<line x1="269.34" y1="41" x2="271.74" y2="41" stroke="#5a5a5a" stroke-width="0.6"/>
<line x1="269.34" y1="62.6" x2="271.74" y2="62.6" stroke="#5a5a5a" stroke-width="0.6"/>
<line x1="279.26" y1="41" x2="279.26" y2="62.6" stroke="#5a5a5a" stroke-width="0.6"/>
<line x1="278.06" y1="41" x2="280.46" y2="41" stroke="#5a5a5a" stroke-width="0.6"/>
<line x1="278.06" y1="62.6" x2="280.46" y2="62.6" stroke="#5a5a5a" stroke-width="0.6"/>
<line x1="287.98" y1="90.5" x2="287.98" y2="94.1" stroke="#5a5a5a" stroke-width="0.6"/>
<line x1="286.78" y1="90.5" x2="289.18" y2="90.5" stroke="#5a5a5a" stroke-width="0.6"/>
<line x1="286.78" y1="94.1" x2="289.18" y2="94.1" stroke="#5a5a5a" stroke-width="0.6"/>
<line x1="296.7" y1="91.4" x2="296.7" y2="95" stroke="#5a5a5a" stroke-width="0.6"/>
<line x1="295.5" y1="91.4" x2="297.9" y2="91.4" stroke="#5a5a5a" stroke-width="0.6"/>
<line x1="295.5" y1="95" x2="297.9" y2="95" stroke="#5a5a5a" stroke-width="0.6"/>
<line x1="305.42" y1="92.3" x2="305.42" y2="95.9" stroke="#5a5a5a" stroke-width="0.6"/>
<line x1="304.22" y1="92.3" x2="306.62" y2="92.3" stroke="#5a5a5a" stroke-width="0.6"/>
<line x1="304.22" y1="95.9" x2="306.62" y2="95.9" stroke="#5a5a5a" stroke-width="0.6"/>
<line x1="209.5" y1="91.4" x2="209.5" y2="95" stroke="#5a5a5a" stroke-width="0.6"/>
<line x1="208.3" y1="91.4" x2="210.7" y2="91.4" stroke="#5a5a5a" stroke-width="0.6"/>
<line x1="208.3" y1="95" x2="210.7" y2="95" stroke="#5a5a5a" stroke-width="0.6"/>
<line x1="218.22" y1="91.4" x2="218.22" y2="95" stroke="#5a5a5a" stroke-width="0.6"/>
<line x1="217.02" y1="91.4" x2="219.42" y2="91.4" stroke="#5a5a5a" stroke-width="0.6"/>
<line x1="217.02" y1="95" x2="219.42" y2="95" stroke="#5a5a5a" stroke-width="0.6"/>
<line x1="226.94" y1="91.4" x2="226.94" y2="95" stroke="#5a5a5a" stroke-width="0.6"/>
<line x1="225.74" y1="91.4" x2="228.14" y2="91.4" stroke="#5a5a5a" stroke-width="0.6"/>
<line x1="225.74" y1="95" x2="228.14" y2="95" stroke="#5a5a5a" stroke-width="0.6"/>
<line x1="235.66" y1="40.1" x2="235.66" y2="61.7" stroke="#5a5a5a" stroke-width="0.6"/>
<line x1="234.46" y1="40.1" x2="236.86" y2="40.1" stroke="#5a5a5a" stroke-width="0.6"/>
<line x1="234.46" y1="61.7" x2="236.86" y2="61.7" stroke="#5a5a5a" stroke-width="0.6"/>
<line x1="244.38" y1="41.9" x2="244.38" y2="63.5" stroke="#5a5a5a" stroke-width="0.6"/>
<line x1="243.18" y1="41.9" x2="245.58" y2="41.9" stroke="#5a5a5a" stroke-width="0.6"/>
<line x1="243.18" y1="63.5" x2="245.58" y2="63.5" stroke="#5a5a5a" stroke-width="0.6"/>
<line x1="253.1" y1="41.9" x2="253.1" y2="61.7" stroke="#5a5a5a" stroke-width="0.6"/>
<line x1="251.9" y1="41.9" x2="254.3" y2="41.9" stroke="#5a5a5a" stroke-width="0.6"/>
<line x1="251.9" y1="61.7" x2="254.3" y2="61.7" stroke="#5a5a5a" stroke-width="0.6"/>
<line x1="261.82" y1="38.3" x2="261.82" y2="59.9" stroke="#5a5a5a" stroke-width="0.6"/>
<line x1="260.62" y1="38.3" x2="263.02" y2="38.3" stroke="#5a5a5a" stroke-width="0.6"/>
<line x1="260.62" y1="59.9" x2="263.02" y2="59.9" stroke="#5a5a5a" stroke-width="0.6"/>
<line x1="270.54" y1="39.2" x2="270.54" y2="60.8" stroke="#5a5a5a" stroke-width="0.6"/>
<line x1="269.34" y1="39.2" x2="271.74" y2="39.2" stroke="#5a5a5a" stroke-width="0.6"/>
<line x1="269.34" y1="60.8" x2="271.74" y2="60.8" stroke="#5a5a5a" stroke-width="0.6"/>
<line x1="279.26" y1="39.2" x2="279.26" y2="60.8" stroke="#5a5a5a" stroke-width="0.6"/>
<line x1="278.06" y1="39.2" x2="280.46" y2="39.2" stroke="#5a5a5a" stroke-width="0.6"/>
<line x1="278.06" y1="60.8" x2="280.46" y2="60.8" stroke="#5a5a5a" stroke-width="0.6"/>
<line x1="287.98" y1="94.1" x2="287.98" y2="97.7" stroke="#5a5a5a" stroke-width="0.6"/>
<line x1="286.78" y1="94.1" x2="289.18" y2="94.1" stroke="#5a5a5a" stroke-width="0.6"/>
<line x1="286.78" y1="97.7" x2="289.18" y2="97.7" stroke="#5a5a5a" stroke-width="0.6"/>
<line x1="296.7" y1="94.1" x2="296.7" y2="97.7" stroke="#5a5a5a" stroke-width="0.6"/>
<line x1="295.5" y1="94.1" x2="297.9" y2="94.1" stroke="#5a5a5a" stroke-width="0.6"/>
<line x1="295.5" y1="97.7" x2="297.9" y2="97.7" stroke="#5a5a5a" stroke-width="0.6"/>
<line x1="305.42" y1="94.1" x2="305.42" y2="97.7" stroke="#5a5a5a" stroke-width="0.6"/>
<line x1="304.22" y1="94.1" x2="306.62" y2="94.1" stroke="#5a5a5a" stroke-width="0.6"/>
<line x1="304.22" y1="97.7" x2="306.62" y2="97.7" stroke="#5a5a5a" stroke-width="0.6"/>
<polyline points="209.5,92.3 218.22,92.3 226.94,92.3 235.66,80.6 244.38,79.7 253.1,78.8 261.82,67.1 270.54,67.1 279.26,67.1 287.98,95.9 296.7,95.9 305.42,96.8" fill="none" stroke="#1a2238" stroke-width="0.85"/>
<polyline points="209.5,92.3 218.22,92.3 226.94,92.3 235.66,77 244.38,75.2 253.1,73.4 261.82,50.9 270.54,51.8 279.26,51.8 287.98,92.3 296.7,93.2 305.42,94.1" fill="none" stroke="#5a2030" stroke-width="0.85" stroke-dasharray="1.5,1.2"/>
<polyline points="209.5,93.2 218.22,93.2 226.94,93.2 235.66,50.9 244.38,52.7 253.1,51.8 261.82,49.1 270.54,50 279.26,50 287.98,95.9 296.7,95.9 305.42,95.9" fill="none" stroke="#2f5f2f" stroke-width="0.85" stroke-dasharray="0.9,0.9"/>
<rect x="207.9" y="90.7" width="3.2" height="3.2" fill="#1c3260" />
<rect x="216.62" y="90.7" width="3.2" height="3.2" fill="#1c3260" />
<rect x="225.34" y="90.7" width="3.2" height="3.2" fill="#1c3260" />
<rect x="234.06" y="79" width="3.2" height="3.2" fill="#1c3260" />
<rect x="242.78" y="78.1" width="3.2" height="3.2" fill="#1c3260" />
<rect x="251.5" y="77.2" width="3.2" height="3.2" fill="#1c3260" />
<rect x="260.22" y="65.5" width="3.2" height="3.2" fill="#1c3260" />
<rect x="268.94" y="65.5" width="3.2" height="3.2" fill="#1c3260" />
<rect x="277.66" y="65.5" width="3.2" height="3.2" fill="#1c3260" />
<rect x="286.38" y="94.3" width="3.2" height="3.2" fill="#1c3260" />
<rect x="295.1" y="94.3" width="3.2" height="3.2" fill="#1c3260" />
<rect x="303.82" y="95.2" width="3.2" height="3.2" fill="#1c3260" />
<circle cx="209.5" cy="92.3" r="1.6" fill="#c4102c"/>
<circle cx="218.22" cy="92.3" r="1.6" fill="#c4102c"/>
<circle cx="226.94" cy="92.3" r="1.6" fill="#c4102c"/>
<circle cx="235.66" cy="77" r="1.6" fill="#c4102c"/>
<circle cx="244.38" cy="75.2" r="1.6" fill="#c4102c"/>
<circle cx="253.1" cy="73.4" r="1.6" fill="#c4102c"/>
<circle cx="261.82" cy="50.9" r="1.6" fill="#c4102c"/>
<circle cx="270.54" cy="51.8" r="1.6" fill="#c4102c"/>
<circle cx="279.26" cy="51.8" r="1.6" fill="#c4102c"/>
<circle cx="287.98" cy="92.3" r="1.6" fill="#c4102c"/>
<circle cx="296.7" cy="93.2" r="1.6" fill="#c4102c"/>
<circle cx="305.42" cy="94.1" r="1.6" fill="#c4102c"/>
<path d="M209.5,91.5 L211.1,94.4 L207.9,94.4 Z" fill="#46a846"/>
<path d="M218.22,91.5 L219.82,94.4 L216.62,94.4 Z" fill="#46a846"/>
<path d="M226.94,91.5 L228.54,94.4 L225.34,94.4 Z" fill="#46a846"/>
<path d="M235.66,49.2 L237.26,52.1 L234.06,52.1 Z" fill="#46a846"/>
<path d="M244.38,51 L245.98,53.9 L242.78,53.9 Z" fill="#46a846"/>
<path d="M253.1,50.1 L254.7,53 L251.5,53 Z" fill="#46a846"/>
<path d="M261.82,47.4 L263.42,50.3 L260.22,50.3 Z" fill="#46a846"/>
<path d="M270.54,48.3 L272.14,51.2 L268.94,51.2 Z" fill="#46a846"/>
<path d="M279.26,48.3 L280.86,51.2 L277.66,51.2 Z" fill="#46a846"/>
<path d="M287.98,94.2 L289.58,97.1 L286.38,97.1 Z" fill="#46a846"/>
<path d="M296.7,94.2 L298.3,97.1 L295.1,97.1 Z" fill="#46a846"/>
<path d="M305.42,94.2 L307.02,97.1 L303.82,97.1 Z" fill="#46a846"/>
<text x="244" y="124.08" font-size="8" stroke="#333" stroke-width="0.2" font-weight="bold" fill="#333" textLength="38" lengthAdjust="spacingAndGlyphs">Time (minutes)</text>
<line x1="196.9" y1="132.5" x2="205.3" y2="132.5" stroke="#5a2030" stroke-width="0.7" stroke-dasharray="1.5,1.2"/>
<circle cx="201.1" cy="132.5" r="1.36" fill="#c4102c"/>
<text x="208.8" y="134.88" font-size="6.6" stroke="#222" stroke-width="0.1" fill="#222" textLength="14.3" lengthAdjust="spacingAndGlyphs">CTRL</text>
<line x1="229.6" y1="132.5" x2="238" y2="132.5" stroke="#1a2238" stroke-width="0.7"/>
<rect x="232.44" y="131.14" width="2.72" height="2.72" fill="#1c3260" />
<text x="241.5" y="134.88" font-size="6.6" stroke="#222" stroke-width="0.1" fill="#222" textLength="31.2" lengthAdjust="spacingAndGlyphs">PIK3CA UP</text>
<line x1="279.3" y1="132.5" x2="287.7" y2="132.5" stroke="#2f5f2f" stroke-width="0.7" stroke-dasharray="0.9,0.9"/>
<path d="M283.5,131.06 L284.86,133.52 L282.14,133.52 Z" fill="#46a846"/>
<text x="290.8" y="134.88" font-size="6.6" stroke="#222" stroke-width="0.1" fill="#222" textLength="25.7" lengthAdjust="spacingAndGlyphs">PTEN KO</text>
<text x="0" y="0" transform="translate(191.1,239.9) rotate(-90)" font-size="7.5" font-weight="normal" fill="#1e1e1e" stroke="#1e1e1e" stroke-width="0.2" textLength="67.1" lengthAdjust="spacingAndGlyphs">ECAR (mpH/min/10<tspan dy="-2.2" font-size="4.6">6</tspan><tspan dy="2.2"> cells)</tspan></text>
<line x1="216.1" y1="216.61" x2="216.1" y2="221.89" stroke="#d00a26" stroke-width="0.85"/>
<line x1="214.6" y1="216.61" x2="217.6" y2="216.61" stroke="#d00a26" stroke-width="0.85"/>
<rect x="212.3" y="221.89" width="7.6" height="16.31" fill="#d00a26" />
<line x1="228.3" y1="225.36" x2="228.3" y2="227.03" stroke="#1a4c8c" stroke-width="0.85"/>
<line x1="226.8" y1="225.36" x2="229.8" y2="225.36" stroke="#1a4c8c" stroke-width="0.85"/>
<rect x="224.5" y="227.03" width="7.6" height="11.17" fill="#1a4c8c" />
<line x1="240.5" y1="195.92" x2="240.5" y2="202.87" stroke="#33b233" stroke-width="0.85"/>
<line x1="239" y1="195.92" x2="242" y2="195.92" stroke="#33b233" stroke-width="0.85"/>
<rect x="236.7" y="202.87" width="7.6" height="35.33" fill="#33b233" />
<polyline points="212.4,242.3 212.4,247.5 244.2,247.5 244.2,242.3" fill="none" stroke="#4a4a4a" stroke-width="0.7"/>
<line x1="228.3" y1="247.5" x2="228.3" y2="251" stroke="#4a4a4a" stroke-width="0.7"/>
<polyline points="216.1,167.6 216.1,164.8 240.5,164.8 240.5,167.6" fill="none" stroke="#5a5a5a" stroke-width="0.8"/>
<circle cx="224.78" cy="161.8" r="0.85" fill="#262626"/>
<circle cx="227.12" cy="161.8" r="0.85" fill="#262626"/>
<circle cx="229.48" cy="161.8" r="0.85" fill="#262626"/>
<circle cx="231.83" cy="161.8" r="0.85" fill="#262626"/>
<polyline points="216.1,180.6 216.1,177.8 228.3,177.8 228.3,180.6" fill="none" stroke="#5a5a5a" stroke-width="0.8"/>
<text x="222.2" y="176.29" font-size="5.8" stroke="#333" stroke-width="0.08" text-anchor="middle" fill="#333">ns</text>
<text x="228.3" y="261.5" font-size="6.4" stroke="#2a2a2a" stroke-width="0.08" text-anchor="middle" fill="#2a2a2a" textLength="36.83" lengthAdjust="spacingAndGlyphs">GLYCOLYSIS</text>
<line x1="261.2" y1="194.41" x2="261.2" y2="202.87" stroke="#d00a26" stroke-width="0.85"/>
<line x1="259.7" y1="194.41" x2="262.7" y2="194.41" stroke="#d00a26" stroke-width="0.85"/>
<rect x="257.4" y="202.87" width="7.6" height="35.33" fill="#d00a26" />
<line x1="273.4" y1="213.28" x2="273.4" y2="217.06" stroke="#1a4c8c" stroke-width="0.85"/>
<line x1="271.9" y1="213.28" x2="274.9" y2="213.28" stroke="#1a4c8c" stroke-width="0.85"/>
<rect x="269.6" y="217.06" width="7.6" height="21.14" fill="#1a4c8c" />
<line x1="285.6" y1="193.65" x2="285.6" y2="200.45" stroke="#33b233" stroke-width="0.85"/>
<line x1="284.1" y1="193.65" x2="287.1" y2="193.65" stroke="#33b233" stroke-width="0.85"/>
<rect x="281.8" y="200.45" width="7.6" height="37.75" fill="#33b233" />
<polyline points="257.5,242.3 257.5,247.5 289.3,247.5 289.3,242.3" fill="none" stroke="#4a4a4a" stroke-width="0.7"/>
<line x1="273.4" y1="247.5" x2="273.4" y2="251" stroke="#4a4a4a" stroke-width="0.7"/>
<line x1="250.85" y1="175" x2="250.85" y2="238.2" stroke="#c4c4c4" stroke-width="0.7"/>
<polyline points="261.2,167.6 261.2,164.8 285.6,164.8 285.6,167.6" fill="none" stroke="#5a5a5a" stroke-width="0.8"/>
<text x="273.4" y="163.29" font-size="5.8" stroke="#333" stroke-width="0.08" text-anchor="middle" fill="#333">ns</text>
<polyline points="261.2,180.6 261.2,177.8 273.4,177.8 273.4,180.6" fill="none" stroke="#5a5a5a" stroke-width="0.8"/>
<circle cx="263.78" cy="174.8" r="0.85" fill="#262626"/>
<circle cx="266.13" cy="174.8" r="0.85" fill="#262626"/>
<circle cx="268.48" cy="174.8" r="0.85" fill="#262626"/>
<circle cx="270.83" cy="174.8" r="0.85" fill="#262626"/>
<text x="273.4" y="261.5" font-size="6.4" stroke="#2a2a2a" stroke-width="0.08" text-anchor="middle" fill="#2a2a2a" textLength="36.82" lengthAdjust="spacingAndGlyphs">GLYCOLYTIC</text>
<text x="273.4" y="268.7" font-size="6.4" stroke="#2a2a2a" stroke-width="0.08" text-anchor="middle" fill="#2a2a2a" textLength="29.32" lengthAdjust="spacingAndGlyphs">CAPACITY</text>
<line x1="306.3" y1="214.79" x2="306.3" y2="219.32" stroke="#d00a26" stroke-width="0.85"/>
<line x1="304.8" y1="214.79" x2="307.8" y2="214.79" stroke="#d00a26" stroke-width="0.85"/>
<rect x="302.5" y="219.32" width="7.6" height="18.88" fill="#d00a26" />
<line x1="318.5" y1="226.12" x2="318.5" y2="228.38" stroke="#1a4c8c" stroke-width="0.85"/>
<line x1="317" y1="226.12" x2="320" y2="226.12" stroke="#1a4c8c" stroke-width="0.85"/>
<rect x="314.7" y="228.38" width="7.6" height="9.81" fill="#1a4c8c" />
<line x1="330.7" y1="235.03" x2="330.7" y2="235.94" stroke="#33b233" stroke-width="0.85"/>
<line x1="329.2" y1="235.03" x2="332.2" y2="235.03" stroke="#33b233" stroke-width="0.85"/>
<rect x="326.9" y="235.94" width="7.6" height="2.27" fill="#33b233" />
<polyline points="302.6,242.3 302.6,247.5 334.4,247.5 334.4,242.3" fill="none" stroke="#4a4a4a" stroke-width="0.7"/>
<line x1="318.5" y1="247.5" x2="318.5" y2="251" stroke="#4a4a4a" stroke-width="0.7"/>
<line x1="295.95" y1="175" x2="295.95" y2="238.2" stroke="#c4c4c4" stroke-width="0.7"/>
<polyline points="306.3,167.6 306.3,164.8 330.7,164.8 330.7,167.6" fill="none" stroke="#5a5a5a" stroke-width="0.8"/>
<circle cx="314.98" cy="161.8" r="0.85" fill="#262626"/>
<circle cx="317.32" cy="161.8" r="0.85" fill="#262626"/>
<circle cx="319.68" cy="161.8" r="0.85" fill="#262626"/>
<circle cx="322.02" cy="161.8" r="0.85" fill="#262626"/>
<polyline points="306.3,180.6 306.3,177.8 318.5,177.8 318.5,180.6" fill="none" stroke="#5a5a5a" stroke-width="0.8"/>
<circle cx="311.22" cy="174.8" r="0.85" fill="#262626"/>
<circle cx="313.57" cy="174.8" r="0.85" fill="#262626"/>
<text x="318.5" y="261.5" font-size="6.4" stroke="#2a2a2a" stroke-width="0.08" text-anchor="middle" fill="#2a2a2a" textLength="36.82" lengthAdjust="spacingAndGlyphs">GLYCOLYTIC</text>
<text x="318.5" y="268.7" font-size="6.4" stroke="#2a2a2a" stroke-width="0.08" text-anchor="middle" fill="#2a2a2a" textLength="28.34" lengthAdjust="spacingAndGlyphs">RESERVE</text>
<line x1="207.7" y1="238.2" x2="340" y2="238.2" stroke="#1e1e1e" stroke-width="1.25"/>
<line x1="208.3" y1="238.7" x2="208.3" y2="177.4" stroke="#1e1e1e" stroke-width="1.25"/>
<line x1="205.1" y1="238.2" x2="208.3" y2="238.2" stroke="#1e1e1e" stroke-width="0.9"/>
<text x="202.1" y="240.22" font-size="5.6" stroke="#262626" stroke-width="0.2" text-anchor="end" fill="#262626">0</text>
<line x1="205.1" y1="223.1" x2="208.3" y2="223.1" stroke="#1e1e1e" stroke-width="0.9"/>
<text x="202.1" y="225.12" font-size="5.6" stroke="#262626" stroke-width="0.2" text-anchor="end" fill="#262626">10</text>
<line x1="205.1" y1="208" x2="208.3" y2="208" stroke="#1e1e1e" stroke-width="0.9"/>
<text x="202.1" y="210.02" font-size="5.6" stroke="#262626" stroke-width="0.2" text-anchor="end" fill="#262626">20</text>
<line x1="205.1" y1="192.9" x2="208.3" y2="192.9" stroke="#1e1e1e" stroke-width="0.9"/>
<text x="202.1" y="194.92" font-size="5.6" stroke="#262626" stroke-width="0.2" text-anchor="end" fill="#262626">30</text>
<line x1="205.1" y1="177.8" x2="208.3" y2="177.8" stroke="#1e1e1e" stroke-width="0.9"/>
<text x="202.1" y="179.82" font-size="5.6" stroke="#262626" stroke-width="0.2" text-anchor="end" fill="#262626">40</text>
<rect x="213.4" y="284.45" width="8.9" height="4.3" fill="#d00a26" />
<text x="225.1" y="288.98" font-size="6.6" stroke="#222" stroke-width="0.1" fill="#222" textLength="14.9" lengthAdjust="spacingAndGlyphs">CTRL</text>
<rect x="246.9" y="284.45" width="9.3" height="4.3" fill="#1a4c8c" />
<text x="258.5" y="288.98" font-size="6.6" stroke="#222" stroke-width="0.1" fill="#222" textLength="31.2" lengthAdjust="spacingAndGlyphs">PIK3CA UP</text>
<rect x="296.2" y="284.45" width="8.4" height="4.3" fill="#33b233" />
<text x="307.7" y="288.98" font-size="6.6" stroke="#222" stroke-width="0.1" fill="#222" textLength="25.4" lengthAdjust="spacingAndGlyphs">PTEN KO</text>
<text x="6.6" y="305.75" font-size="10.7" stroke="#000" stroke-width="0.3" font-weight="bold" fill="#000">C</text>
<text x="37" y="313.45" font-size="8.2" stroke="#222" stroke-width="0.02" fill="#222" textLength="103.5" lengthAdjust="spacingAndGlyphs">MINO - MITO STRESS TEST</text>
<text x="0" y="0" transform="translate(16.5,388.5) rotate(-90)" font-size="7.5" font-weight="normal" fill="#1e1e1e" stroke="#1e1e1e" stroke-width="0.2" textLength="65" lengthAdjust="spacingAndGlyphs">OCR (pmol/min/10<tspan dy="-2.2" font-size="4.6">6</tspan><tspan dy="2.2"> cells)</tspan></text>
<line x1="34.6" y1="393.5" x2="34.6" y2="320.6" stroke="#1e1e1e" stroke-width="1.25"/>
<line x1="31.4" y1="393" x2="34.6" y2="393" stroke="#1e1e1e" stroke-width="0.9"/>
<text x="28.4" y="395.02" font-size="5.6" stroke="#262626" stroke-width="0.2" text-anchor="end" fill="#262626">0</text>
<line x1="31.4" y1="378.6" x2="34.6" y2="378.6" stroke="#1e1e1e" stroke-width="0.9"/>
<text x="28.4" y="380.62" font-size="5.6" stroke="#262626" stroke-width="0.2" text-anchor="end" fill="#262626">10</text>
<line x1="31.4" y1="364.2" x2="34.6" y2="364.2" stroke="#1e1e1e" stroke-width="0.9"/>
<text x="28.4" y="366.22" font-size="5.6" stroke="#262626" stroke-width="0.2" text-anchor="end" fill="#262626">20</text>
<line x1="31.4" y1="349.8" x2="34.6" y2="349.8" stroke="#1e1e1e" stroke-width="0.9"/>
<text x="28.4" y="351.82" font-size="5.6" stroke="#262626" stroke-width="0.2" text-anchor="end" fill="#262626">30</text>
<line x1="31.4" y1="335.4" x2="34.6" y2="335.4" stroke="#1e1e1e" stroke-width="0.9"/>
<text x="28.4" y="337.42" font-size="5.6" stroke="#262626" stroke-width="0.2" text-anchor="end" fill="#262626">40</text>
<line x1="31.4" y1="321" x2="34.6" y2="321" stroke="#1e1e1e" stroke-width="0.9"/>
<text x="28.4" y="323.02" font-size="5.6" stroke="#262626" stroke-width="0.2" text-anchor="end" fill="#262626">50</text>
<line x1="34" y1="392.9" x2="143.8" y2="392.9" stroke="#1e1e1e" stroke-width="1.25"/>
<line x1="34.6" y1="392.9" x2="34.6" y2="395.5" stroke="#1e1e1e" stroke-width="0.9"/>
<text x="34.6" y="404.39" font-size="5.8" stroke="#262626" stroke-width="0.2" text-anchor="middle" fill="#262626">0</text>
<line x1="61.15" y1="392.9" x2="61.15" y2="395.5" stroke="#1e1e1e" stroke-width="0.9"/>
<text x="61.15" y="404.39" font-size="5.8" stroke="#262626" stroke-width="0.2" text-anchor="middle" fill="#262626">20</text>
<line x1="87.7" y1="392.9" x2="87.7" y2="395.5" stroke="#1e1e1e" stroke-width="0.9"/>
<text x="87.7" y="404.39" font-size="5.8" stroke="#262626" stroke-width="0.2" text-anchor="middle" fill="#262626">40</text>
<line x1="114.25" y1="392.9" x2="114.25" y2="395.5" stroke="#1e1e1e" stroke-width="0.9"/>
<text x="114.25" y="404.39" font-size="5.8" stroke="#262626" stroke-width="0.2" text-anchor="middle" fill="#262626">60</text>
<line x1="140.8" y1="392.9" x2="140.8" y2="395.5" stroke="#1e1e1e" stroke-width="0.9"/>
<text x="140.8" y="404.39" font-size="5.8" stroke="#262626" stroke-width="0.2" text-anchor="middle" fill="#262626">80</text>
<line x1="35.9" y1="367.8" x2="35.9" y2="372.12" stroke="#5a5a5a" stroke-width="0.6"/>
<line x1="34.7" y1="367.8" x2="37.1" y2="367.8" stroke="#5a5a5a" stroke-width="0.6"/>
<line x1="34.7" y1="372.12" x2="37.1" y2="372.12" stroke="#5a5a5a" stroke-width="0.6"/>
<line x1="44.63" y1="369.24" x2="44.63" y2="372.12" stroke="#5a5a5a" stroke-width="0.6"/>
<line x1="43.43" y1="369.24" x2="45.83" y2="369.24" stroke="#5a5a5a" stroke-width="0.6"/>
<line x1="43.43" y1="372.12" x2="45.83" y2="372.12" stroke="#5a5a5a" stroke-width="0.6"/>
<line x1="53.36" y1="369.24" x2="53.36" y2="372.12" stroke="#5a5a5a" stroke-width="0.6"/>
<line x1="52.16" y1="369.24" x2="54.56" y2="369.24" stroke="#5a5a5a" stroke-width="0.6"/>
<line x1="52.16" y1="372.12" x2="54.56" y2="372.12" stroke="#5a5a5a" stroke-width="0.6"/>
<line x1="62.09" y1="385.8" x2="62.09" y2="387.24" stroke="#5a5a5a" stroke-width="0.6"/>
<line x1="60.89" y1="385.8" x2="63.29" y2="385.8" stroke="#5a5a5a" stroke-width="0.6"/>
<line x1="60.89" y1="387.24" x2="63.29" y2="387.24" stroke="#5a5a5a" stroke-width="0.6"/>
<line x1="70.82" y1="385.8" x2="70.82" y2="387.24" stroke="#5a5a5a" stroke-width="0.6"/>
<line x1="69.62" y1="385.8" x2="72.02" y2="385.8" stroke="#5a5a5a" stroke-width="0.6"/>
<line x1="69.62" y1="387.24" x2="72.02" y2="387.24" stroke="#5a5a5a" stroke-width="0.6"/>
<line x1="79.55" y1="385.8" x2="79.55" y2="387.24" stroke="#5a5a5a" stroke-width="0.6"/>
<line x1="78.35" y1="385.8" x2="80.75" y2="385.8" stroke="#5a5a5a" stroke-width="0.6"/>
<line x1="78.35" y1="387.24" x2="80.75" y2="387.24" stroke="#5a5a5a" stroke-width="0.6"/>
<line x1="88.28" y1="331.08" x2="88.28" y2="336.84" stroke="#5a5a5a" stroke-width="0.6"/>
<line x1="87.08" y1="331.08" x2="89.48" y2="331.08" stroke="#5a5a5a" stroke-width="0.6"/>
<line x1="87.08" y1="336.84" x2="89.48" y2="336.84" stroke="#5a5a5a" stroke-width="0.6"/>
<line x1="97.01" y1="333.96" x2="97.01" y2="339.72" stroke="#5a5a5a" stroke-width="0.6"/>
<line x1="95.81" y1="333.96" x2="98.21" y2="333.96" stroke="#5a5a5a" stroke-width="0.6"/>
<line x1="95.81" y1="339.72" x2="98.21" y2="339.72" stroke="#5a5a5a" stroke-width="0.6"/>
<line x1="105.74" y1="333.96" x2="105.74" y2="339.72" stroke="#5a5a5a" stroke-width="0.6"/>
<line x1="104.54" y1="333.96" x2="106.94" y2="333.96" stroke="#5a5a5a" stroke-width="0.6"/>
<line x1="104.54" y1="339.72" x2="106.94" y2="339.72" stroke="#5a5a5a" stroke-width="0.6"/>
<line x1="114.47" y1="388.1" x2="114.47" y2="389.26" stroke="#5a5a5a" stroke-width="0.6"/>
<line x1="113.27" y1="388.1" x2="115.67" y2="388.1" stroke="#5a5a5a" stroke-width="0.6"/>
<line x1="113.27" y1="389.26" x2="115.67" y2="389.26" stroke="#5a5a5a" stroke-width="0.6"/>
<line x1="123.2" y1="388.1" x2="123.2" y2="389.26" stroke="#5a5a5a" stroke-width="0.6"/>
<line x1="122" y1="388.1" x2="124.4" y2="388.1" stroke="#5a5a5a" stroke-width="0.6"/>
<line x1="122" y1="389.26" x2="124.4" y2="389.26" stroke="#5a5a5a" stroke-width="0.6"/>
<line x1="131.93" y1="388.1" x2="131.93" y2="389.26" stroke="#5a5a5a" stroke-width="0.6"/>
<line x1="130.73" y1="388.1" x2="133.13" y2="388.1" stroke="#5a5a5a" stroke-width="0.6"/>
<line x1="130.73" y1="389.26" x2="133.13" y2="389.26" stroke="#5a5a5a" stroke-width="0.6"/>
<line x1="35.9" y1="369.96" x2="35.9" y2="372.84" stroke="#5a5a5a" stroke-width="0.6"/>
<line x1="34.7" y1="369.96" x2="37.1" y2="369.96" stroke="#5a5a5a" stroke-width="0.6"/>
<line x1="34.7" y1="372.84" x2="37.1" y2="372.84" stroke="#5a5a5a" stroke-width="0.6"/>
<line x1="44.63" y1="370.68" x2="44.63" y2="373.56" stroke="#5a5a5a" stroke-width="0.6"/>
<line x1="43.43" y1="370.68" x2="45.83" y2="370.68" stroke="#5a5a5a" stroke-width="0.6"/>
<line x1="43.43" y1="373.56" x2="45.83" y2="373.56" stroke="#5a5a5a" stroke-width="0.6"/>
<line x1="53.36" y1="370.68" x2="53.36" y2="373.56" stroke="#5a5a5a" stroke-width="0.6"/>
<line x1="52.16" y1="370.68" x2="54.56" y2="370.68" stroke="#5a5a5a" stroke-width="0.6"/>
<line x1="52.16" y1="373.56" x2="54.56" y2="373.56" stroke="#5a5a5a" stroke-width="0.6"/>
<line x1="62.09" y1="386.52" x2="62.09" y2="387.96" stroke="#5a5a5a" stroke-width="0.6"/>
<line x1="60.89" y1="386.52" x2="63.29" y2="386.52" stroke="#5a5a5a" stroke-width="0.6"/>
<line x1="60.89" y1="387.96" x2="63.29" y2="387.96" stroke="#5a5a5a" stroke-width="0.6"/>
<line x1="70.82" y1="386.52" x2="70.82" y2="387.96" stroke="#5a5a5a" stroke-width="0.6"/>
<line x1="69.62" y1="386.52" x2="72.02" y2="386.52" stroke="#5a5a5a" stroke-width="0.6"/>
<line x1="69.62" y1="387.96" x2="72.02" y2="387.96" stroke="#5a5a5a" stroke-width="0.6"/>
<line x1="79.55" y1="386.52" x2="79.55" y2="387.96" stroke="#5a5a5a" stroke-width="0.6"/>
<line x1="78.35" y1="386.52" x2="80.75" y2="386.52" stroke="#5a5a5a" stroke-width="0.6"/>
<line x1="78.35" y1="387.96" x2="80.75" y2="387.96" stroke="#5a5a5a" stroke-width="0.6"/>
<line x1="88.28" y1="334.68" x2="88.28" y2="343.32" stroke="#5a5a5a" stroke-width="0.6"/>
<line x1="87.08" y1="334.68" x2="89.48" y2="334.68" stroke="#5a5a5a" stroke-width="0.6"/>
<line x1="87.08" y1="343.32" x2="89.48" y2="343.32" stroke="#5a5a5a" stroke-width="0.6"/>
<line x1="97.01" y1="336.12" x2="97.01" y2="347.64" stroke="#5a5a5a" stroke-width="0.6"/>
<line x1="95.81" y1="336.12" x2="98.21" y2="336.12" stroke="#5a5a5a" stroke-width="0.6"/>
<line x1="95.81" y1="347.64" x2="98.21" y2="347.64" stroke="#5a5a5a" stroke-width="0.6"/>
<line x1="105.74" y1="336.12" x2="105.74" y2="347.64" stroke="#5a5a5a" stroke-width="0.6"/>
<line x1="104.54" y1="336.12" x2="106.94" y2="336.12" stroke="#5a5a5a" stroke-width="0.6"/>
<line x1="104.54" y1="347.64" x2="106.94" y2="347.64" stroke="#5a5a5a" stroke-width="0.6"/>
<line x1="114.47" y1="388.54" x2="114.47" y2="389.69" stroke="#5a5a5a" stroke-width="0.6"/>
<line x1="113.27" y1="388.54" x2="115.67" y2="388.54" stroke="#5a5a5a" stroke-width="0.6"/>
<line x1="113.27" y1="389.69" x2="115.67" y2="389.69" stroke="#5a5a5a" stroke-width="0.6"/>
<line x1="123.2" y1="388.54" x2="123.2" y2="389.69" stroke="#5a5a5a" stroke-width="0.6"/>
<line x1="122" y1="388.54" x2="124.4" y2="388.54" stroke="#5a5a5a" stroke-width="0.6"/>
<line x1="122" y1="389.69" x2="124.4" y2="389.69" stroke="#5a5a5a" stroke-width="0.6"/>
<line x1="131.93" y1="388.54" x2="131.93" y2="389.69" stroke="#5a5a5a" stroke-width="0.6"/>
<line x1="130.73" y1="388.54" x2="133.13" y2="388.54" stroke="#5a5a5a" stroke-width="0.6"/>
<line x1="130.73" y1="389.69" x2="133.13" y2="389.69" stroke="#5a5a5a" stroke-width="0.6"/>
<line x1="35.9" y1="367.08" x2="35.9" y2="369.96" stroke="#5a5a5a" stroke-width="0.6"/>
<line x1="34.7" y1="367.08" x2="37.1" y2="367.08" stroke="#5a5a5a" stroke-width="0.6"/>
<line x1="34.7" y1="369.96" x2="37.1" y2="369.96" stroke="#5a5a5a" stroke-width="0.6"/>
<line x1="44.63" y1="368.52" x2="44.63" y2="371.4" stroke="#5a5a5a" stroke-width="0.6"/>
<line x1="43.43" y1="368.52" x2="45.83" y2="368.52" stroke="#5a5a5a" stroke-width="0.6"/>
<line x1="43.43" y1="371.4" x2="45.83" y2="371.4" stroke="#5a5a5a" stroke-width="0.6"/>
<line x1="53.36" y1="368.52" x2="53.36" y2="371.4" stroke="#5a5a5a" stroke-width="0.6"/>
<line x1="52.16" y1="368.52" x2="54.56" y2="368.52" stroke="#5a5a5a" stroke-width="0.6"/>
<line x1="52.16" y1="371.4" x2="54.56" y2="371.4" stroke="#5a5a5a" stroke-width="0.6"/>
<line x1="62.09" y1="385.8" x2="62.09" y2="387.24" stroke="#5a5a5a" stroke-width="0.6"/>
<line x1="60.89" y1="385.8" x2="63.29" y2="385.8" stroke="#5a5a5a" stroke-width="0.6"/>
<line x1="60.89" y1="387.24" x2="63.29" y2="387.24" stroke="#5a5a5a" stroke-width="0.6"/>
<line x1="70.82" y1="385.8" x2="70.82" y2="387.24" stroke="#5a5a5a" stroke-width="0.6"/>
<line x1="69.62" y1="385.8" x2="72.02" y2="385.8" stroke="#5a5a5a" stroke-width="0.6"/>
<line x1="69.62" y1="387.24" x2="72.02" y2="387.24" stroke="#5a5a5a" stroke-width="0.6"/>
<line x1="79.55" y1="385.8" x2="79.55" y2="387.24" stroke="#5a5a5a" stroke-width="0.6"/>
<line x1="78.35" y1="385.8" x2="80.75" y2="385.8" stroke="#5a5a5a" stroke-width="0.6"/>
<line x1="78.35" y1="387.24" x2="80.75" y2="387.24" stroke="#5a5a5a" stroke-width="0.6"/>
<line x1="88.28" y1="330.36" x2="88.28" y2="334.68" stroke="#5a5a5a" stroke-width="0.6"/>
<line x1="87.08" y1="330.36" x2="89.48" y2="330.36" stroke="#5a5a5a" stroke-width="0.6"/>
<line x1="87.08" y1="334.68" x2="89.48" y2="334.68" stroke="#5a5a5a" stroke-width="0.6"/>
<line x1="97.01" y1="333.96" x2="97.01" y2="338.28" stroke="#5a5a5a" stroke-width="0.6"/>
<line x1="95.81" y1="333.96" x2="98.21" y2="333.96" stroke="#5a5a5a" stroke-width="0.6"/>
<line x1="95.81" y1="338.28" x2="98.21" y2="338.28" stroke="#5a5a5a" stroke-width="0.6"/>
<line x1="105.74" y1="333.96" x2="105.74" y2="338.28" stroke="#5a5a5a" stroke-width="0.6"/>
<line x1="104.54" y1="333.96" x2="106.94" y2="333.96" stroke="#5a5a5a" stroke-width="0.6"/>
<line x1="104.54" y1="338.28" x2="106.94" y2="338.28" stroke="#5a5a5a" stroke-width="0.6"/>
<line x1="114.47" y1="388.1" x2="114.47" y2="389.26" stroke="#5a5a5a" stroke-width="0.6"/>
<line x1="113.27" y1="388.1" x2="115.67" y2="388.1" stroke="#5a5a5a" stroke-width="0.6"/>
<line x1="113.27" y1="389.26" x2="115.67" y2="389.26" stroke="#5a5a5a" stroke-width="0.6"/>
<line x1="123.2" y1="388.1" x2="123.2" y2="389.26" stroke="#5a5a5a" stroke-width="0.6"/>
<line x1="122" y1="388.1" x2="124.4" y2="388.1" stroke="#5a5a5a" stroke-width="0.6"/>
<line x1="122" y1="389.26" x2="124.4" y2="389.26" stroke="#5a5a5a" stroke-width="0.6"/>
<line x1="131.93" y1="388.1" x2="131.93" y2="389.26" stroke="#5a5a5a" stroke-width="0.6"/>
<line x1="130.73" y1="388.1" x2="133.13" y2="388.1" stroke="#5a5a5a" stroke-width="0.6"/>
<line x1="130.73" y1="389.26" x2="133.13" y2="389.26" stroke="#5a5a5a" stroke-width="0.6"/>
<polyline points="35.9,369.96 44.63,370.68 53.36,370.68 62.09,386.52 70.82,386.52 79.55,386.52 88.28,333.96 97.01,336.84 105.74,336.84 114.47,388.68 123.2,388.68 131.93,388.68" fill="none" stroke="#5a2030" stroke-width="1.0" stroke-dasharray="1.5,1.2"/>
<polyline points="35.9,371.4 44.63,372.12 53.36,372.12 62.09,387.24 70.82,387.24 79.55,387.24 88.28,339 97.01,341.88 105.74,341.88 114.47,389.11 123.2,389.11 131.93,389.11" fill="none" stroke="#1a2238" stroke-width="1.0"/>
<polyline points="35.9,368.52 44.63,369.96 53.36,369.96 62.09,386.52 70.82,386.52 79.55,386.52 88.28,332.52 97.01,336.12 105.74,336.12 114.47,388.68 123.2,388.68 131.93,388.68" fill="none" stroke="#2f5f2f" stroke-width="1.0" stroke-dasharray="0.9,0.9"/>
<circle cx="35.9" cy="369.96" r="1.6" fill="#c4102c"/>
<circle cx="44.63" cy="370.68" r="1.6" fill="#c4102c"/>
<circle cx="53.36" cy="370.68" r="1.6" fill="#c4102c"/>
<circle cx="62.09" cy="386.52" r="1.6" fill="#c4102c"/>
<circle cx="70.82" cy="386.52" r="1.6" fill="#c4102c"/>
<circle cx="79.55" cy="386.52" r="1.6" fill="#c4102c"/>
<circle cx="88.28" cy="333.96" r="1.6" fill="#c4102c"/>
<circle cx="97.01" cy="336.84" r="1.6" fill="#c4102c"/>
<circle cx="105.74" cy="336.84" r="1.6" fill="#c4102c"/>
<circle cx="114.47" cy="388.68" r="1.6" fill="#c4102c"/>
<circle cx="123.2" cy="388.68" r="1.6" fill="#c4102c"/>
<circle cx="131.93" cy="388.68" r="1.6" fill="#c4102c"/>
<rect x="34.3" y="369.8" width="3.2" height="3.2" fill="#1c3260" />
<rect x="43.03" y="370.52" width="3.2" height="3.2" fill="#1c3260" />
<rect x="51.76" y="370.52" width="3.2" height="3.2" fill="#1c3260" />
<rect x="60.49" y="385.64" width="3.2" height="3.2" fill="#1c3260" />
<rect x="69.22" y="385.64" width="3.2" height="3.2" fill="#1c3260" />
<rect x="77.95" y="385.64" width="3.2" height="3.2" fill="#1c3260" />
<rect x="86.68" y="337.4" width="3.2" height="3.2" fill="#1c3260" />
<rect x="95.41" y="340.28" width="3.2" height="3.2" fill="#1c3260" />
<rect x="104.14" y="340.28" width="3.2" height="3.2" fill="#1c3260" />
<rect x="112.87" y="387.51" width="3.2" height="3.2" fill="#1c3260" />
<rect x="121.6" y="387.51" width="3.2" height="3.2" fill="#1c3260" />
<rect x="130.33" y="387.51" width="3.2" height="3.2" fill="#1c3260" />
<path d="M35.9,366.82 L37.5,369.72 L34.3,369.72 Z" fill="#46a846"/>
<path d="M44.63,368.26 L46.23,371.16 L43.03,371.16 Z" fill="#46a846"/>
<path d="M53.36,368.26 L54.96,371.16 L51.76,371.16 Z" fill="#46a846"/>
<path d="M62.09,384.82 L63.69,387.72 L60.49,387.72 Z" fill="#46a846"/>
<path d="M70.82,384.82 L72.42,387.72 L69.22,387.72 Z" fill="#46a846"/>
<path d="M79.55,384.82 L81.15,387.72 L77.95,387.72 Z" fill="#46a846"/>
<path d="M88.28,330.82 L89.88,333.72 L86.68,333.72 Z" fill="#46a846"/>
<path d="M97.01,334.42 L98.61,337.32 L95.41,337.32 Z" fill="#46a846"/>
<path d="M105.74,334.42 L107.34,337.32 L104.14,337.32 Z" fill="#46a846"/>
<path d="M114.47,386.98 L116.07,389.88 L112.87,389.88 Z" fill="#46a846"/>
<path d="M123.2,386.98 L124.8,389.88 L121.6,389.88 Z" fill="#46a846"/>
<path d="M131.93,386.98 L133.53,389.88 L130.33,389.88 Z" fill="#46a846"/>
<text x="70.2" y="415.68" font-size="8" stroke="#333" stroke-width="0.2" font-weight="bold" fill="#333" textLength="38.1" lengthAdjust="spacingAndGlyphs">Time (minutes)</text>
<line x1="23.3" y1="423.5" x2="31.7" y2="423.5" stroke="#5a2030" stroke-width="0.7" stroke-dasharray="1.5,1.2"/>
<circle cx="27.5" cy="423.5" r="1.36" fill="#c4102c"/>
<text x="35.2" y="425.88" font-size="6.6" stroke="#222" stroke-width="0.1" fill="#222" textLength="14.3" lengthAdjust="spacingAndGlyphs">CTRL</text>
<line x1="56" y1="423.5" x2="64.4" y2="423.5" stroke="#1a2238" stroke-width="0.7"/>
<rect x="58.84" y="422.14" width="2.72" height="2.72" fill="#1c3260" />
<text x="67.9" y="425.88" font-size="6.6" stroke="#222" stroke-width="0.1" fill="#222" textLength="31.2" lengthAdjust="spacingAndGlyphs">PIK3CA UP</text>
<line x1="105.7" y1="423.5" x2="114.1" y2="423.5" stroke="#2f5f2f" stroke-width="0.7" stroke-dasharray="0.9,0.9"/>
<path d="M109.9,422.06 L111.26,424.52 L108.54,424.52 Z" fill="#46a846"/>
<text x="117.2" y="425.88" font-size="6.6" stroke="#222" stroke-width="0.1" fill="#222" textLength="25.7" lengthAdjust="spacingAndGlyphs">PTEN KO</text>
<text x="0" y="0" transform="translate(16.5,511.4) rotate(-90)" font-size="7.5" font-weight="normal" fill="#1e1e1e" stroke="#1e1e1e" stroke-width="0.2" textLength="64.3" lengthAdjust="spacingAndGlyphs">OCR (pmol/min/10<tspan dy="-2.2" font-size="4.6">6</tspan><tspan dy="2.2"> cells)</tspan></text>
<line x1="42.9" y1="494.46" x2="42.9" y2="495.66" stroke="#d00a26" stroke-width="0.85"/>
<line x1="41.4" y1="494.46" x2="44.4" y2="494.46" stroke="#d00a26" stroke-width="0.85"/>
<rect x="39.1" y="495.66" width="7.6" height="14.64" fill="#d00a26" />
<line x1="54.8" y1="494.7" x2="54.8" y2="496.5" stroke="#1a4c8c" stroke-width="0.85"/>
<line x1="53.3" y1="494.7" x2="56.3" y2="494.7" stroke="#1a4c8c" stroke-width="0.85"/>
<rect x="51" y="496.5" width="7.6" height="13.8" fill="#1a4c8c" />
<line x1="66.7" y1="493.98" x2="66.7" y2="494.94" stroke="#33b233" stroke-width="0.85"/>
<line x1="65.2" y1="493.98" x2="68.2" y2="493.98" stroke="#33b233" stroke-width="0.85"/>
<rect x="62.9" y="494.94" width="7.6" height="15.36" fill="#33b233" />
<polyline points="39.2,514.1 39.2,519.3 70.4,519.3 70.4,514.1" fill="none" stroke="#4a4a4a" stroke-width="0.7"/>
<line x1="54.8" y1="519.3" x2="54.8" y2="522.8" stroke="#4a4a4a" stroke-width="0.7"/>
<polyline points="42.9,440 42.9,437.2 66.7,437.2 66.7,440" fill="none" stroke="#5a5a5a" stroke-width="0.8"/>
<text x="54.8" y="435.69" font-size="5.8" stroke="#333" stroke-width="0.08" text-anchor="middle" fill="#333">ns</text>
<polyline points="42.9,453.1 42.9,450.3 54.8,450.3 54.8,453.1" fill="none" stroke="#5a5a5a" stroke-width="0.8"/>
<text x="48.85" y="448.79" font-size="5.8" stroke="#333" stroke-width="0.08" text-anchor="middle" fill="#333">ns</text>
<text x="54.8" y="533.9" font-size="6.4" stroke="#2a2a2a" stroke-width="0.08" text-anchor="middle" fill="#2a2a2a" textLength="19.19" lengthAdjust="spacingAndGlyphs">BASAL</text>
<text x="54.8" y="541.1" font-size="6.4" stroke="#2a2a2a" stroke-width="0.08" text-anchor="middle" fill="#2a2a2a" textLength="39.91" lengthAdjust="spacingAndGlyphs">RESPIRATION</text>
<line x1="87.7" y1="459.3" x2="87.7" y2="462.3" stroke="#d00a26" stroke-width="0.85"/>
<line x1="86.2" y1="459.3" x2="89.2" y2="459.3" stroke="#d00a26" stroke-width="0.85"/>
<rect x="83.9" y="462.3" width="7.6" height="48" fill="#d00a26" />
<line x1="99.6" y1="458.7" x2="99.6" y2="464.1" stroke="#1a4c8c" stroke-width="0.85"/>
<line x1="98.1" y1="458.7" x2="101.1" y2="458.7" stroke="#1a4c8c" stroke-width="0.85"/>
<rect x="95.8" y="464.1" width="7.6" height="46.2" fill="#1a4c8c" />
<line x1="111.5" y1="459.3" x2="111.5" y2="461.7" stroke="#33b233" stroke-width="0.85"/>
<line x1="110" y1="459.3" x2="113" y2="459.3" stroke="#33b233" stroke-width="0.85"/>
<rect x="107.7" y="461.7" width="7.6" height="48.6" fill="#33b233" />
<polyline points="84,514.1 84,519.3 115.2,519.3 115.2,514.1" fill="none" stroke="#4a4a4a" stroke-width="0.7"/>
<line x1="99.6" y1="519.3" x2="99.6" y2="522.8" stroke="#4a4a4a" stroke-width="0.7"/>
<line x1="77.2" y1="447" x2="77.2" y2="510.3" stroke="#c4c4c4" stroke-width="0.7"/>
<polyline points="87.7,440 87.7,437.2 111.5,437.2 111.5,440" fill="none" stroke="#5a5a5a" stroke-width="0.8"/>
<text x="99.6" y="435.69" font-size="5.8" stroke="#333" stroke-width="0.08" text-anchor="middle" fill="#333">ns</text>
<polyline points="87.7,453.1 87.7,450.3 99.6,450.3 99.6,453.1" fill="none" stroke="#5a5a5a" stroke-width="0.8"/>
<text x="93.65" y="448.79" font-size="5.8" stroke="#333" stroke-width="0.08" text-anchor="middle" fill="#333">ns</text>
<text x="99.6" y="533.9" font-size="6.4" stroke="#2a2a2a" stroke-width="0.08" text-anchor="middle" fill="#2a2a2a" textLength="26.79" lengthAdjust="spacingAndGlyphs">MAXIMAL</text>
<text x="99.6" y="541.1" font-size="6.4" stroke="#2a2a2a" stroke-width="0.08" text-anchor="middle" fill="#2a2a2a" textLength="39.91" lengthAdjust="spacingAndGlyphs">RESPIRATION</text>
<line x1="132.5" y1="474.3" x2="132.5" y2="477.3" stroke="#d00a26" stroke-width="0.85"/>
<line x1="131" y1="474.3" x2="134" y2="474.3" stroke="#d00a26" stroke-width="0.85"/>
<rect x="128.7" y="477.3" width="7.6" height="33" fill="#d00a26" />
<line x1="144.4" y1="475.5" x2="144.4" y2="479.7" stroke="#1a4c8c" stroke-width="0.85"/>
<line x1="142.9" y1="475.5" x2="145.9" y2="475.5" stroke="#1a4c8c" stroke-width="0.85"/>
<rect x="140.6" y="479.7" width="7.6" height="30.6" fill="#1a4c8c" />
<line x1="156.3" y1="474.54" x2="156.3" y2="476.94" stroke="#33b233" stroke-width="0.85"/>
<line x1="154.8" y1="474.54" x2="157.8" y2="474.54" stroke="#33b233" stroke-width="0.85"/>
<rect x="152.5" y="476.94" width="7.6" height="33.36" fill="#33b233" />
<polyline points="128.8,514.1 128.8,519.3 160,519.3 160,514.1" fill="none" stroke="#4a4a4a" stroke-width="0.7"/>
<line x1="144.4" y1="519.3" x2="144.4" y2="522.8" stroke="#4a4a4a" stroke-width="0.7"/>
<line x1="122" y1="447" x2="122" y2="510.3" stroke="#c4c4c4" stroke-width="0.7"/>
<polyline points="132.5,440 132.5,437.2 156.3,437.2 156.3,440" fill="none" stroke="#5a5a5a" stroke-width="0.8"/>
<text x="144.4" y="435.69" font-size="5.8" stroke="#333" stroke-width="0.08" text-anchor="middle" fill="#333">ns</text>
<polyline points="132.5,453.1 132.5,450.3 144.4,450.3 144.4,453.1" fill="none" stroke="#5a5a5a" stroke-width="0.8"/>
<text x="138.45" y="448.79" font-size="5.8" stroke="#333" stroke-width="0.08" text-anchor="middle" fill="#333">ns</text>
<text x="144.4" y="533.9" font-size="6.4" stroke="#2a2a2a" stroke-width="0.08" text-anchor="middle" fill="#2a2a2a" textLength="19.74" lengthAdjust="spacingAndGlyphs">SPARE</text>
<text x="144.4" y="541.1" font-size="6.4" stroke="#2a2a2a" stroke-width="0.08" text-anchor="middle" fill="#2a2a2a" textLength="42.01" lengthAdjust="spacingAndGlyphs">RESPIRATORY</text>
<text x="144.4" y="548.3" font-size="6.4" stroke="#2a2a2a" stroke-width="0.08" text-anchor="middle" fill="#2a2a2a" textLength="29.32" lengthAdjust="spacingAndGlyphs">CAPACITY</text>
<line x1="34" y1="510.3" x2="165" y2="510.3" stroke="#1e1e1e" stroke-width="1.25"/>
<line x1="34.6" y1="510.8" x2="34.6" y2="449.9" stroke="#1e1e1e" stroke-width="1.25"/>
<line x1="31.4" y1="510.3" x2="34.6" y2="510.3" stroke="#1e1e1e" stroke-width="0.9"/>
<text x="28.4" y="512.32" font-size="5.6" stroke="#262626" stroke-width="0.2" text-anchor="end" fill="#262626">0</text>
<line x1="31.4" y1="498.3" x2="34.6" y2="498.3" stroke="#1e1e1e" stroke-width="0.9"/>
<text x="28.4" y="500.32" font-size="5.6" stroke="#262626" stroke-width="0.2" text-anchor="end" fill="#262626">10</text>
<line x1="31.4" y1="486.3" x2="34.6" y2="486.3" stroke="#1e1e1e" stroke-width="0.9"/>
<text x="28.4" y="488.32" font-size="5.6" stroke="#262626" stroke-width="0.2" text-anchor="end" fill="#262626">20</text>
<line x1="31.4" y1="474.3" x2="34.6" y2="474.3" stroke="#1e1e1e" stroke-width="0.9"/>
<text x="28.4" y="476.32" font-size="5.6" stroke="#262626" stroke-width="0.2" text-anchor="end" fill="#262626">30</text>
<line x1="31.4" y1="462.3" x2="34.6" y2="462.3" stroke="#1e1e1e" stroke-width="0.9"/>
<text x="28.4" y="464.32" font-size="5.6" stroke="#262626" stroke-width="0.2" text-anchor="end" fill="#262626">40</text>
<line x1="31.4" y1="450.3" x2="34.6" y2="450.3" stroke="#1e1e1e" stroke-width="0.9"/>
<text x="28.4" y="452.32" font-size="5.6" stroke="#262626" stroke-width="0.2" text-anchor="end" fill="#262626">50</text>
<rect x="40.4" y="553.85" width="8.9" height="4.3" fill="#d00a26" />
<text x="52.1" y="558.38" font-size="6.6" stroke="#222" stroke-width="0.1" fill="#222" textLength="14.9" lengthAdjust="spacingAndGlyphs">CTRL</text>
<rect x="73.9" y="553.85" width="9.3" height="4.3" fill="#1a4c8c" />
<text x="85.5" y="558.38" font-size="6.6" stroke="#222" stroke-width="0.1" fill="#222" textLength="31.2" lengthAdjust="spacingAndGlyphs">PIK3CA UP</text>
<rect x="123.2" y="553.85" width="8.4" height="4.3" fill="#33b233" />
<text x="134.7" y="558.38" font-size="6.6" stroke="#222" stroke-width="0.1" fill="#222" textLength="25.4" lengthAdjust="spacingAndGlyphs">PTEN KO</text>
<text x="180.3" y="306.05" font-size="10.7" stroke="#000" stroke-width="0.3" font-weight="bold" fill="#000">D</text>
<text x="207" y="313.45" font-size="8.2" stroke="#222" stroke-width="0.02" fill="#222" textLength="111" lengthAdjust="spacingAndGlyphs">MINO - GLYCO STRESS TEST</text>
<text x="0" y="0" transform="translate(191.1,389.2) rotate(-90)" font-size="7.5" font-weight="normal" fill="#1e1e1e" stroke="#1e1e1e" stroke-width="0.2" textLength="67.8" lengthAdjust="spacingAndGlyphs">ECAR (mpH/min/10<tspan dy="-2.2" font-size="4.6">6</tspan><tspan dy="2.2"> cells)</tspan></text>
<line x1="208" y1="393.2" x2="208" y2="320.3" stroke="#1e1e1e" stroke-width="1.25"/>
<line x1="204.8" y1="392.7" x2="208" y2="392.7" stroke="#1e1e1e" stroke-width="0.9"/>
<text x="201.8" y="394.72" font-size="5.6" stroke="#262626" stroke-width="0.2" text-anchor="end" fill="#262626">0</text>
<line x1="204.8" y1="374.7" x2="208" y2="374.7" stroke="#1e1e1e" stroke-width="0.9"/>
<text x="201.8" y="376.72" font-size="5.6" stroke="#262626" stroke-width="0.2" text-anchor="end" fill="#262626">20</text>
<line x1="204.8" y1="356.7" x2="208" y2="356.7" stroke="#1e1e1e" stroke-width="0.9"/>
<text x="201.8" y="358.72" font-size="5.6" stroke="#262626" stroke-width="0.2" text-anchor="end" fill="#262626">40</text>
<line x1="204.8" y1="338.7" x2="208" y2="338.7" stroke="#1e1e1e" stroke-width="0.9"/>
<text x="201.8" y="340.72" font-size="5.6" stroke="#262626" stroke-width="0.2" text-anchor="end" fill="#262626">60</text>
<line x1="204.8" y1="320.7" x2="208" y2="320.7" stroke="#1e1e1e" stroke-width="0.9"/>
<text x="201.8" y="322.72" font-size="5.6" stroke="#262626" stroke-width="0.2" text-anchor="end" fill="#262626">80</text>
<line x1="207.4" y1="392.7" x2="317.5" y2="392.7" stroke="#1e1e1e" stroke-width="1.25"/>
<line x1="208" y1="392.7" x2="208" y2="395.3" stroke="#1e1e1e" stroke-width="0.9"/>
<text x="208" y="403.89" font-size="5.8" stroke="#262626" stroke-width="0.2" text-anchor="middle" fill="#262626">0</text>
<line x1="234.62" y1="392.7" x2="234.62" y2="395.3" stroke="#1e1e1e" stroke-width="0.9"/>
<text x="234.62" y="403.89" font-size="5.8" stroke="#262626" stroke-width="0.2" text-anchor="middle" fill="#262626">20</text>
<line x1="261.25" y1="392.7" x2="261.25" y2="395.3" stroke="#1e1e1e" stroke-width="0.9"/>
<text x="261.25" y="403.89" font-size="5.8" stroke="#262626" stroke-width="0.2" text-anchor="middle" fill="#262626">40</text>
<line x1="287.88" y1="392.7" x2="287.88" y2="395.3" stroke="#1e1e1e" stroke-width="0.9"/>
<text x="287.88" y="403.89" font-size="5.8" stroke="#262626" stroke-width="0.2" text-anchor="middle" fill="#262626">60</text>
<line x1="314.5" y1="392.7" x2="314.5" y2="395.3" stroke="#1e1e1e" stroke-width="0.9"/>
<text x="314.5" y="403.89" font-size="5.8" stroke="#262626" stroke-width="0.2" text-anchor="middle" fill="#262626">80</text>
<line x1="209.7" y1="384.6" x2="209.7" y2="386.4" stroke="#5a5a5a" stroke-width="0.6"/>
<line x1="208.5" y1="384.6" x2="210.9" y2="384.6" stroke="#5a5a5a" stroke-width="0.6"/>
<line x1="208.5" y1="386.4" x2="210.9" y2="386.4" stroke="#5a5a5a" stroke-width="0.6"/>
<line x1="218.4" y1="385.5" x2="218.4" y2="387.3" stroke="#5a5a5a" stroke-width="0.6"/>
<line x1="217.2" y1="385.5" x2="219.6" y2="385.5" stroke="#5a5a5a" stroke-width="0.6"/>
<line x1="217.2" y1="387.3" x2="219.6" y2="387.3" stroke="#5a5a5a" stroke-width="0.6"/>
<line x1="227.1" y1="385.5" x2="227.1" y2="387.3" stroke="#5a5a5a" stroke-width="0.6"/>
<line x1="225.9" y1="385.5" x2="228.3" y2="385.5" stroke="#5a5a5a" stroke-width="0.6"/>
<line x1="225.9" y1="387.3" x2="228.3" y2="387.3" stroke="#5a5a5a" stroke-width="0.6"/>
<line x1="235.8" y1="347.7" x2="235.8" y2="353.1" stroke="#5a5a5a" stroke-width="0.6"/>
<line x1="234.6" y1="347.7" x2="237" y2="347.7" stroke="#5a5a5a" stroke-width="0.6"/>
<line x1="234.6" y1="353.1" x2="237" y2="353.1" stroke="#5a5a5a" stroke-width="0.6"/>
<line x1="244.5" y1="348.6" x2="244.5" y2="354" stroke="#5a5a5a" stroke-width="0.6"/>
<line x1="243.3" y1="348.6" x2="245.7" y2="348.6" stroke="#5a5a5a" stroke-width="0.6"/>
<line x1="243.3" y1="354" x2="245.7" y2="354" stroke="#5a5a5a" stroke-width="0.6"/>
<line x1="253.2" y1="348.6" x2="253.2" y2="354" stroke="#5a5a5a" stroke-width="0.6"/>
<line x1="252" y1="348.6" x2="254.4" y2="348.6" stroke="#5a5a5a" stroke-width="0.6"/>
<line x1="252" y1="354" x2="254.4" y2="354" stroke="#5a5a5a" stroke-width="0.6"/>
<line x1="261.9" y1="341.4" x2="261.9" y2="348.6" stroke="#5a5a5a" stroke-width="0.6"/>
<line x1="260.7" y1="341.4" x2="263.1" y2="341.4" stroke="#5a5a5a" stroke-width="0.6"/>
<line x1="260.7" y1="348.6" x2="263.1" y2="348.6" stroke="#5a5a5a" stroke-width="0.6"/>
<line x1="270.6" y1="343.2" x2="270.6" y2="350.4" stroke="#5a5a5a" stroke-width="0.6"/>
<line x1="269.4" y1="343.2" x2="271.8" y2="343.2" stroke="#5a5a5a" stroke-width="0.6"/>
<line x1="269.4" y1="350.4" x2="271.8" y2="350.4" stroke="#5a5a5a" stroke-width="0.6"/>
<line x1="279.3" y1="345" x2="279.3" y2="350.4" stroke="#5a5a5a" stroke-width="0.6"/>
<line x1="278.1" y1="345" x2="280.5" y2="345" stroke="#5a5a5a" stroke-width="0.6"/>
<line x1="278.1" y1="350.4" x2="280.5" y2="350.4" stroke="#5a5a5a" stroke-width="0.6"/>
<line x1="288" y1="383.7" x2="288" y2="385.5" stroke="#5a5a5a" stroke-width="0.6"/>
<line x1="286.8" y1="383.7" x2="289.2" y2="383.7" stroke="#5a5a5a" stroke-width="0.6"/>
<line x1="286.8" y1="385.5" x2="289.2" y2="385.5" stroke="#5a5a5a" stroke-width="0.6"/>
<line x1="296.7" y1="385.5" x2="296.7" y2="387.3" stroke="#5a5a5a" stroke-width="0.6"/>
<line x1="295.5" y1="385.5" x2="297.9" y2="385.5" stroke="#5a5a5a" stroke-width="0.6"/>
<line x1="295.5" y1="387.3" x2="297.9" y2="387.3" stroke="#5a5a5a" stroke-width="0.6"/>
<line x1="305.4" y1="386.4" x2="305.4" y2="388.2" stroke="#5a5a5a" stroke-width="0.6"/>
<line x1="304.2" y1="386.4" x2="306.6" y2="386.4" stroke="#5a5a5a" stroke-width="0.6"/>
<line x1="304.2" y1="388.2" x2="306.6" y2="388.2" stroke="#5a5a5a" stroke-width="0.6"/>
<line x1="209.7" y1="384.6" x2="209.7" y2="386.4" stroke="#5a5a5a" stroke-width="0.6"/>
<line x1="208.5" y1="384.6" x2="210.9" y2="384.6" stroke="#5a5a5a" stroke-width="0.6"/>
<line x1="208.5" y1="386.4" x2="210.9" y2="386.4" stroke="#5a5a5a" stroke-width="0.6"/>
<line x1="218.4" y1="385.5" x2="218.4" y2="387.3" stroke="#5a5a5a" stroke-width="0.6"/>
<line x1="217.2" y1="385.5" x2="219.6" y2="385.5" stroke="#5a5a5a" stroke-width="0.6"/>
<line x1="217.2" y1="387.3" x2="219.6" y2="387.3" stroke="#5a5a5a" stroke-width="0.6"/>
<line x1="227.1" y1="385.5" x2="227.1" y2="387.3" stroke="#5a5a5a" stroke-width="0.6"/>
<line x1="225.9" y1="385.5" x2="228.3" y2="385.5" stroke="#5a5a5a" stroke-width="0.6"/>
<line x1="225.9" y1="387.3" x2="228.3" y2="387.3" stroke="#5a5a5a" stroke-width="0.6"/>
<line x1="235.8" y1="352.65" x2="235.8" y2="357.15" stroke="#5a5a5a" stroke-width="0.6"/>
<line x1="234.6" y1="352.65" x2="237" y2="352.65" stroke="#5a5a5a" stroke-width="0.6"/>
<line x1="234.6" y1="357.15" x2="237" y2="357.15" stroke="#5a5a5a" stroke-width="0.6"/>
<line x1="244.5" y1="353.1" x2="244.5" y2="357.6" stroke="#5a5a5a" stroke-width="0.6"/>
<line x1="243.3" y1="353.1" x2="245.7" y2="353.1" stroke="#5a5a5a" stroke-width="0.6"/>
<line x1="243.3" y1="357.6" x2="245.7" y2="357.6" stroke="#5a5a5a" stroke-width="0.6"/>
<line x1="253.2" y1="353.1" x2="253.2" y2="357.6" stroke="#5a5a5a" stroke-width="0.6"/>
<line x1="252" y1="353.1" x2="254.4" y2="353.1" stroke="#5a5a5a" stroke-width="0.6"/>
<line x1="252" y1="357.6" x2="254.4" y2="357.6" stroke="#5a5a5a" stroke-width="0.6"/>
<line x1="261.9" y1="348.6" x2="261.9" y2="354" stroke="#5a5a5a" stroke-width="0.6"/>
<line x1="260.7" y1="348.6" x2="263.1" y2="348.6" stroke="#5a5a5a" stroke-width="0.6"/>
<line x1="260.7" y1="354" x2="263.1" y2="354" stroke="#5a5a5a" stroke-width="0.6"/>
<line x1="270.6" y1="349.95" x2="270.6" y2="355.35" stroke="#5a5a5a" stroke-width="0.6"/>
<line x1="269.4" y1="349.95" x2="271.8" y2="349.95" stroke="#5a5a5a" stroke-width="0.6"/>
<line x1="269.4" y1="355.35" x2="271.8" y2="355.35" stroke="#5a5a5a" stroke-width="0.6"/>
<line x1="279.3" y1="350.85" x2="279.3" y2="356.25" stroke="#5a5a5a" stroke-width="0.6"/>
<line x1="278.1" y1="350.85" x2="280.5" y2="350.85" stroke="#5a5a5a" stroke-width="0.6"/>
<line x1="278.1" y1="356.25" x2="280.5" y2="356.25" stroke="#5a5a5a" stroke-width="0.6"/>
<line x1="288" y1="383.7" x2="288" y2="385.5" stroke="#5a5a5a" stroke-width="0.6"/>
<line x1="286.8" y1="383.7" x2="289.2" y2="383.7" stroke="#5a5a5a" stroke-width="0.6"/>
<line x1="286.8" y1="385.5" x2="289.2" y2="385.5" stroke="#5a5a5a" stroke-width="0.6"/>
<line x1="296.7" y1="385.5" x2="296.7" y2="387.3" stroke="#5a5a5a" stroke-width="0.6"/>
<line x1="295.5" y1="385.5" x2="297.9" y2="385.5" stroke="#5a5a5a" stroke-width="0.6"/>
<line x1="295.5" y1="387.3" x2="297.9" y2="387.3" stroke="#5a5a5a" stroke-width="0.6"/>
<line x1="305.4" y1="386.4" x2="305.4" y2="388.2" stroke="#5a5a5a" stroke-width="0.6"/>
<line x1="304.2" y1="386.4" x2="306.6" y2="386.4" stroke="#5a5a5a" stroke-width="0.6"/>
<line x1="304.2" y1="388.2" x2="306.6" y2="388.2" stroke="#5a5a5a" stroke-width="0.6"/>
<line x1="209.7" y1="384.6" x2="209.7" y2="386.4" stroke="#5a5a5a" stroke-width="0.6"/>
<line x1="208.5" y1="384.6" x2="210.9" y2="384.6" stroke="#5a5a5a" stroke-width="0.6"/>
<line x1="208.5" y1="386.4" x2="210.9" y2="386.4" stroke="#5a5a5a" stroke-width="0.6"/>
<line x1="218.4" y1="385.5" x2="218.4" y2="387.3" stroke="#5a5a5a" stroke-width="0.6"/>
<line x1="217.2" y1="385.5" x2="219.6" y2="385.5" stroke="#5a5a5a" stroke-width="0.6"/>
<line x1="217.2" y1="387.3" x2="219.6" y2="387.3" stroke="#5a5a5a" stroke-width="0.6"/>
<line x1="227.1" y1="385.5" x2="227.1" y2="387.3" stroke="#5a5a5a" stroke-width="0.6"/>
<line x1="225.9" y1="385.5" x2="228.3" y2="385.5" stroke="#5a5a5a" stroke-width="0.6"/>
<line x1="225.9" y1="387.3" x2="228.3" y2="387.3" stroke="#5a5a5a" stroke-width="0.6"/>
<line x1="235.8" y1="346.8" x2="235.8" y2="354" stroke="#5a5a5a" stroke-width="0.6"/>
<line x1="234.6" y1="346.8" x2="237" y2="346.8" stroke="#5a5a5a" stroke-width="0.6"/>
<line x1="234.6" y1="354" x2="237" y2="354" stroke="#5a5a5a" stroke-width="0.6"/>
<line x1="244.5" y1="347.25" x2="244.5" y2="354.45" stroke="#5a5a5a" stroke-width="0.6"/>
<line x1="243.3" y1="347.25" x2="245.7" y2="347.25" stroke="#5a5a5a" stroke-width="0.6"/>
<line x1="243.3" y1="354.45" x2="245.7" y2="354.45" stroke="#5a5a5a" stroke-width="0.6"/>
<line x1="253.2" y1="347.25" x2="253.2" y2="354.45" stroke="#5a5a5a" stroke-width="0.6"/>
<line x1="252" y1="347.25" x2="254.4" y2="347.25" stroke="#5a5a5a" stroke-width="0.6"/>
<line x1="252" y1="354.45" x2="254.4" y2="354.45" stroke="#5a5a5a" stroke-width="0.6"/>
<line x1="261.9" y1="340.95" x2="261.9" y2="348.15" stroke="#5a5a5a" stroke-width="0.6"/>
<line x1="260.7" y1="340.95" x2="263.1" y2="340.95" stroke="#5a5a5a" stroke-width="0.6"/>
<line x1="260.7" y1="348.15" x2="263.1" y2="348.15" stroke="#5a5a5a" stroke-width="0.6"/>
<line x1="270.6" y1="342.3" x2="270.6" y2="349.5" stroke="#5a5a5a" stroke-width="0.6"/>
<line x1="269.4" y1="342.3" x2="271.8" y2="342.3" stroke="#5a5a5a" stroke-width="0.6"/>
<line x1="269.4" y1="349.5" x2="271.8" y2="349.5" stroke="#5a5a5a" stroke-width="0.6"/>
<line x1="279.3" y1="343.65" x2="279.3" y2="350.85" stroke="#5a5a5a" stroke-width="0.6"/>
<line x1="278.1" y1="343.65" x2="280.5" y2="343.65" stroke="#5a5a5a" stroke-width="0.6"/>
<line x1="278.1" y1="350.85" x2="280.5" y2="350.85" stroke="#5a5a5a" stroke-width="0.6"/>
<line x1="288" y1="383.7" x2="288" y2="385.5" stroke="#5a5a5a" stroke-width="0.6"/>
<line x1="286.8" y1="383.7" x2="289.2" y2="383.7" stroke="#5a5a5a" stroke-width="0.6"/>
<line x1="286.8" y1="385.5" x2="289.2" y2="385.5" stroke="#5a5a5a" stroke-width="0.6"/>
<line x1="296.7" y1="385.5" x2="296.7" y2="387.3" stroke="#5a5a5a" stroke-width="0.6"/>
<line x1="295.5" y1="385.5" x2="297.9" y2="385.5" stroke="#5a5a5a" stroke-width="0.6"/>
<line x1="295.5" y1="387.3" x2="297.9" y2="387.3" stroke="#5a5a5a" stroke-width="0.6"/>
<line x1="305.4" y1="386.4" x2="305.4" y2="388.2" stroke="#5a5a5a" stroke-width="0.6"/>
<line x1="304.2" y1="386.4" x2="306.6" y2="386.4" stroke="#5a5a5a" stroke-width="0.6"/>
<line x1="304.2" y1="388.2" x2="306.6" y2="388.2" stroke="#5a5a5a" stroke-width="0.6"/>
<polyline points="209.7,385.5 218.4,386.4 227.1,386.4 235.8,350.4 244.5,351.3 253.2,351.3 261.9,345 270.6,346.8 279.3,347.7 288,384.6 296.7,386.4 305.4,387.3" fill="none" stroke="#5a2030" stroke-width="1.0" stroke-dasharray="1.5,1.2"/>
<polyline points="209.7,385.5 218.4,386.4 227.1,386.4 235.8,354.9 244.5,355.35 253.2,355.35 261.9,351.3 270.6,352.65 279.3,353.55 288,384.6 296.7,386.4 305.4,387.3" fill="none" stroke="#1a2238" stroke-width="1.0"/>
<polyline points="209.7,385.5 218.4,386.4 227.1,386.4 235.8,350.4 244.5,350.85 253.2,350.85 261.9,344.55 270.6,345.9 279.3,347.25 288,384.6 296.7,386.4 305.4,387.3" fill="none" stroke="#2f5f2f" stroke-width="1.0" stroke-dasharray="0.9,0.9"/>
<circle cx="209.7" cy="385.5" r="1.6" fill="#c4102c"/>
<circle cx="218.4" cy="386.4" r="1.6" fill="#c4102c"/>
<circle cx="227.1" cy="386.4" r="1.6" fill="#c4102c"/>
<circle cx="235.8" cy="350.4" r="1.6" fill="#c4102c"/>
<circle cx="244.5" cy="351.3" r="1.6" fill="#c4102c"/>
<circle cx="253.2" cy="351.3" r="1.6" fill="#c4102c"/>
<circle cx="261.9" cy="345" r="1.6" fill="#c4102c"/>
<circle cx="270.6" cy="346.8" r="1.6" fill="#c4102c"/>
<circle cx="279.3" cy="347.7" r="1.6" fill="#c4102c"/>
<circle cx="288" cy="384.6" r="1.6" fill="#c4102c"/>
<circle cx="296.7" cy="386.4" r="1.6" fill="#c4102c"/>
<circle cx="305.4" cy="387.3" r="1.6" fill="#c4102c"/>
<rect x="208.1" y="383.9" width="3.2" height="3.2" fill="#1c3260" />
<rect x="216.8" y="384.8" width="3.2" height="3.2" fill="#1c3260" />
<rect x="225.5" y="384.8" width="3.2" height="3.2" fill="#1c3260" />
<rect x="234.2" y="353.3" width="3.2" height="3.2" fill="#1c3260" />
<rect x="242.9" y="353.75" width="3.2" height="3.2" fill="#1c3260" />
<rect x="251.6" y="353.75" width="3.2" height="3.2" fill="#1c3260" />
<rect x="260.3" y="349.7" width="3.2" height="3.2" fill="#1c3260" />
<rect x="269" y="351.05" width="3.2" height="3.2" fill="#1c3260" />
<rect x="277.7" y="351.95" width="3.2" height="3.2" fill="#1c3260" />
<rect x="286.4" y="383" width="3.2" height="3.2" fill="#1c3260" />
<rect x="295.1" y="384.8" width="3.2" height="3.2" fill="#1c3260" />
<rect x="303.8" y="385.7" width="3.2" height="3.2" fill="#1c3260" />
<path d="M209.7,383.8 L211.3,386.7 L208.1,386.7 Z" fill="#46a846"/>
<path d="M218.4,384.7 L220,387.6 L216.8,387.6 Z" fill="#46a846"/>
<path d="M227.1,384.7 L228.7,387.6 L225.5,387.6 Z" fill="#46a846"/>
<path d="M235.8,348.7 L237.4,351.6 L234.2,351.6 Z" fill="#46a846"/>
<path d="M244.5,349.15 L246.1,352.05 L242.9,352.05 Z" fill="#46a846"/>
<path d="M253.2,349.15 L254.8,352.05 L251.6,352.05 Z" fill="#46a846"/>
<path d="M261.9,342.85 L263.5,345.75 L260.3,345.75 Z" fill="#46a846"/>
<path d="M270.6,344.2 L272.2,347.1 L269,347.1 Z" fill="#46a846"/>
<path d="M279.3,345.55 L280.9,348.45 L277.7,348.45 Z" fill="#46a846"/>
<path d="M288,382.9 L289.6,385.8 L286.4,385.8 Z" fill="#46a846"/>
<path d="M296.7,384.7 L298.3,387.6 L295.1,387.6 Z" fill="#46a846"/>
<path d="M305.4,385.6 L307,388.5 L303.8,388.5 Z" fill="#46a846"/>
<text x="244.2" y="415.68" font-size="8" stroke="#333" stroke-width="0.2" font-weight="bold" fill="#333" textLength="38.1" lengthAdjust="spacingAndGlyphs">Time (minutes)</text>
<line x1="196.9" y1="423.5" x2="205.3" y2="423.5" stroke="#5a2030" stroke-width="0.7" stroke-dasharray="1.5,1.2"/>
<circle cx="201.1" cy="423.5" r="1.36" fill="#c4102c"/>
<text x="208.8" y="425.88" font-size="6.6" stroke="#222" stroke-width="0.1" fill="#222" textLength="14.3" lengthAdjust="spacingAndGlyphs">CTRL</text>
<line x1="229.6" y1="423.5" x2="238" y2="423.5" stroke="#1a2238" stroke-width="0.7"/>
<rect x="232.44" y="422.14" width="2.72" height="2.72" fill="#1c3260" />
<text x="241.5" y="425.88" font-size="6.6" stroke="#222" stroke-width="0.1" fill="#222" textLength="31.2" lengthAdjust="spacingAndGlyphs">PIK3CA UP</text>
<line x1="279.3" y1="423.5" x2="287.7" y2="423.5" stroke="#2f5f2f" stroke-width="0.7" stroke-dasharray="0.9,0.9"/>
<path d="M283.5,422.06 L284.86,424.52 L282.14,424.52 Z" fill="#46a846"/>
<text x="290.8" y="425.88" font-size="6.6" stroke="#222" stroke-width="0.1" fill="#222" textLength="25.7" lengthAdjust="spacingAndGlyphs">PTEN KO</text>
<text x="0" y="0" transform="translate(191.1,511.4) rotate(-90)" font-size="7.5" font-weight="normal" fill="#1e1e1e" stroke="#1e1e1e" stroke-width="0.2" textLength="65.7" lengthAdjust="spacingAndGlyphs">ECAR (mpH/min/10<tspan dy="-2.2" font-size="4.6">6</tspan><tspan dy="2.2"> cells)</tspan></text>
<line x1="216.6" y1="470.2" x2="216.6" y2="472" stroke="#d00a26" stroke-width="0.85"/>
<line x1="215.1" y1="470.2" x2="218.1" y2="470.2" stroke="#d00a26" stroke-width="0.85"/>
<rect x="212.8" y="472" width="7.6" height="38.4" fill="#d00a26" />
<line x1="228.6" y1="472.4" x2="228.6" y2="475.4" stroke="#1a4c8c" stroke-width="0.85"/>
<line x1="227.1" y1="472.4" x2="230.1" y2="472.4" stroke="#1a4c8c" stroke-width="0.85"/>
<rect x="224.8" y="475.4" width="7.6" height="35" fill="#1a4c8c" />
<line x1="240.6" y1="466.5" x2="240.6" y2="470" stroke="#33b233" stroke-width="0.85"/>
<line x1="239.1" y1="466.5" x2="242.1" y2="466.5" stroke="#33b233" stroke-width="0.85"/>
<rect x="236.8" y="470" width="7.6" height="40.4" fill="#33b233" />
<polyline points="212.9,514.1 212.9,519.3 244.3,519.3 244.3,514.1" fill="none" stroke="#4a4a4a" stroke-width="0.7"/>
<line x1="228.6" y1="519.3" x2="228.6" y2="522.8" stroke="#4a4a4a" stroke-width="0.7"/>
<polyline points="216.6,448.9 216.6,446.1 240.6,446.1 240.6,448.9" fill="none" stroke="#5a5a5a" stroke-width="0.8"/>
<text x="228.6" y="444.59" font-size="5.8" stroke="#333" stroke-width="0.08" text-anchor="middle" fill="#333">ns</text>
<polyline points="216.6,461.8 216.6,459 228.6,459 228.6,461.8" fill="none" stroke="#5a5a5a" stroke-width="0.8"/>
<text x="222.6" y="457.49" font-size="5.8" stroke="#333" stroke-width="0.08" text-anchor="middle" fill="#333">ns</text>
<text x="228.6" y="534.1" font-size="6.4" stroke="#2a2a2a" stroke-width="0.08" text-anchor="middle" fill="#2a2a2a" textLength="36.83" lengthAdjust="spacingAndGlyphs">GLYCOLYSIS</text>
<line x1="261.45" y1="462.1" x2="261.45" y2="464.6" stroke="#d00a26" stroke-width="0.85"/>
<line x1="259.95" y1="462.1" x2="262.95" y2="462.1" stroke="#d00a26" stroke-width="0.85"/>
<rect x="257.65" y="464.6" width="7.6" height="45.8" fill="#d00a26" />
<line x1="273.45" y1="467.4" x2="273.45" y2="470.9" stroke="#1a4c8c" stroke-width="0.85"/>
<line x1="271.95" y1="467.4" x2="274.95" y2="467.4" stroke="#1a4c8c" stroke-width="0.85"/>
<rect x="269.65" y="470.9" width="7.6" height="39.5" fill="#1a4c8c" />
<line x1="285.45" y1="458.9" x2="285.45" y2="463.4" stroke="#33b233" stroke-width="0.85"/>
<line x1="283.95" y1="458.9" x2="286.95" y2="458.9" stroke="#33b233" stroke-width="0.85"/>
<rect x="281.65" y="463.4" width="7.6" height="47" fill="#33b233" />
<polyline points="257.75,514.1 257.75,519.3 289.15,519.3 289.15,514.1" fill="none" stroke="#4a4a4a" stroke-width="0.7"/>
<line x1="273.45" y1="519.3" x2="273.45" y2="522.8" stroke="#4a4a4a" stroke-width="0.7"/>
<line x1="251.03" y1="447" x2="251.03" y2="510.4" stroke="#c4c4c4" stroke-width="0.7"/>
<polyline points="261.45,448.9 261.45,446.1 285.45,446.1 285.45,448.9" fill="none" stroke="#5a5a5a" stroke-width="0.8"/>
<text x="273.45" y="444.59" font-size="5.8" stroke="#333" stroke-width="0.08" text-anchor="middle" fill="#333">ns</text>
<polyline points="261.45,461.8 261.45,459 273.45,459 273.45,461.8" fill="none" stroke="#5a5a5a" stroke-width="0.8"/>
<circle cx="263.93" cy="456" r="0.85" fill="#262626"/>
<circle cx="266.28" cy="456" r="0.85" fill="#262626"/>
<circle cx="268.63" cy="456" r="0.85" fill="#262626"/>
<circle cx="270.98" cy="456" r="0.85" fill="#262626"/>
<text x="273.45" y="534.1" font-size="6.4" stroke="#2a2a2a" stroke-width="0.08" text-anchor="middle" fill="#2a2a2a" textLength="36.82" lengthAdjust="spacingAndGlyphs">GLYCOLYTIC</text>
<text x="273.45" y="541.3" font-size="6.4" stroke="#2a2a2a" stroke-width="0.08" text-anchor="middle" fill="#2a2a2a" textLength="29.32" lengthAdjust="spacingAndGlyphs">CAPACITY</text>
<line x1="306.3" y1="502.1" x2="306.3" y2="502.9" stroke="#d00a26" stroke-width="0.85"/>
<line x1="304.8" y1="502.1" x2="307.8" y2="502.1" stroke="#d00a26" stroke-width="0.85"/>
<rect x="302.5" y="502.9" width="7.6" height="7.5" fill="#d00a26" />
<line x1="318.3" y1="505.1" x2="318.3" y2="505.9" stroke="#1a4c8c" stroke-width="0.85"/>
<line x1="316.8" y1="505.1" x2="319.8" y2="505.1" stroke="#1a4c8c" stroke-width="0.85"/>
<rect x="314.5" y="505.9" width="7.6" height="4.5" fill="#1a4c8c" />
<line x1="330.3" y1="502.4" x2="330.3" y2="503.9" stroke="#33b233" stroke-width="0.85"/>
<line x1="328.8" y1="502.4" x2="331.8" y2="502.4" stroke="#33b233" stroke-width="0.85"/>
<rect x="326.5" y="503.9" width="7.6" height="6.5" fill="#33b233" />
<polyline points="302.6,514.1 302.6,519.3 334,519.3 334,514.1" fill="none" stroke="#4a4a4a" stroke-width="0.7"/>
<line x1="318.3" y1="519.3" x2="318.3" y2="522.8" stroke="#4a4a4a" stroke-width="0.7"/>
<line x1="295.88" y1="447" x2="295.88" y2="510.4" stroke="#c4c4c4" stroke-width="0.7"/>
<polyline points="306.3,448.9 306.3,446.1 330.3,446.1 330.3,448.9" fill="none" stroke="#5a5a5a" stroke-width="0.8"/>
<text x="318.3" y="444.59" font-size="5.8" stroke="#333" stroke-width="0.08" text-anchor="middle" fill="#333">ns</text>
<polyline points="306.3,461.8 306.3,459 318.3,459 318.3,461.8" fill="none" stroke="#5a5a5a" stroke-width="0.8"/>
<text x="312.3" y="457.49" font-size="5.8" stroke="#333" stroke-width="0.08" text-anchor="middle" fill="#333">ns</text>
<text x="318.3" y="534.1" font-size="6.4" stroke="#2a2a2a" stroke-width="0.08" text-anchor="middle" fill="#2a2a2a" textLength="36.82" lengthAdjust="spacingAndGlyphs">GLYCOLYTIC</text>
<text x="318.3" y="541.3" font-size="6.4" stroke="#2a2a2a" stroke-width="0.08" text-anchor="middle" fill="#2a2a2a" textLength="28.34" lengthAdjust="spacingAndGlyphs">RESERVE</text>
<line x1="207.4" y1="510.4" x2="340" y2="510.4" stroke="#1e1e1e" stroke-width="1.25"/>
<line x1="208" y1="510.9" x2="208" y2="450" stroke="#1e1e1e" stroke-width="1.25"/>
<line x1="204.8" y1="510.4" x2="208" y2="510.4" stroke="#1e1e1e" stroke-width="0.9"/>
<text x="201.8" y="512.42" font-size="5.6" stroke="#262626" stroke-width="0.2" text-anchor="end" fill="#262626">0</text>
<line x1="204.8" y1="490.4" x2="208" y2="490.4" stroke="#1e1e1e" stroke-width="0.9"/>
<text x="201.8" y="492.42" font-size="5.6" stroke="#262626" stroke-width="0.2" text-anchor="end" fill="#262626">20</text>
<line x1="204.8" y1="470.4" x2="208" y2="470.4" stroke="#1e1e1e" stroke-width="0.9"/>
<text x="201.8" y="472.42" font-size="5.6" stroke="#262626" stroke-width="0.2" text-anchor="end" fill="#262626">40</text>
<line x1="204.8" y1="450.4" x2="208" y2="450.4" stroke="#1e1e1e" stroke-width="0.9"/>
<text x="201.8" y="452.42" font-size="5.6" stroke="#262626" stroke-width="0.2" text-anchor="end" fill="#262626">60</text>
<rect x="213.4" y="553.65" width="8.9" height="4.3" fill="#d00a26" />
<text x="225.1" y="558.18" font-size="6.6" stroke="#222" stroke-width="0.1" fill="#222" textLength="14.9" lengthAdjust="spacingAndGlyphs">CTRL</text>
<rect x="246.9" y="553.65" width="9.3" height="4.3" fill="#1a4c8c" />
<text x="258.5" y="558.18" font-size="6.6" stroke="#222" stroke-width="0.1" fill="#222" textLength="31.2" lengthAdjust="spacingAndGlyphs">PIK3CA UP</text>
<rect x="296.2" y="553.65" width="8.4" height="4.3" fill="#33b233" />
<text x="307.7" y="558.18" font-size="6.6" stroke="#222" stroke-width="0.1" fill="#222" textLength="25.4" lengthAdjust="spacingAndGlyphs">PTEN KO</text>
<text x="349.8" y="15.85" font-size="10.7" stroke="#000" stroke-width="0.3" font-weight="bold" fill="#000">E</text>
<text x="392.4" y="19.35" font-size="8.2" stroke="#222" stroke-width="0.02" fill="#222" textLength="105.8" lengthAdjust="spacingAndGlyphs">2-DEOXY-D-GLUCOSE (24h)</text>
<text x="0" y="0" transform="translate(356.8,79) rotate(-90)" font-size="7.5" font-weight="normal" fill="#1e1e1e" stroke="#1e1e1e" stroke-width="0.2" textLength="30.4" lengthAdjust="spacingAndGlyphs">% Apoptosis</text>
<line x1="377" y1="101.9" x2="377" y2="27.1" stroke="#1e1e1e" stroke-width="1.1"/>
<line x1="373.5" y1="101.4" x2="377" y2="101.4" stroke="#1e1e1e" stroke-width="0.9"/>
<text x="370.8" y="103.49" font-size="5.8" stroke="#262626" stroke-width="0.2" text-anchor="end" fill="#262626">0</text>
<line x1="375.3" y1="98.4" x2="377" y2="98.4" stroke="#1e1e1e" stroke-width="0.8"/>
<line x1="375.3" y1="95.4" x2="377" y2="95.4" stroke="#1e1e1e" stroke-width="0.8"/>
<line x1="375.3" y1="92.4" x2="377" y2="92.4" stroke="#1e1e1e" stroke-width="0.8"/>
<line x1="375.3" y1="89.4" x2="377" y2="89.4" stroke="#1e1e1e" stroke-width="0.8"/>
<line x1="375.3" y1="86.4" x2="377" y2="86.4" stroke="#1e1e1e" stroke-width="0.8"/>
<line x1="375.3" y1="83.4" x2="377" y2="83.4" stroke="#1e1e1e" stroke-width="0.8"/>
<line x1="375.3" y1="80.4" x2="377" y2="80.4" stroke="#1e1e1e" stroke-width="0.8"/>
<line x1="375.3" y1="77.4" x2="377" y2="77.4" stroke="#1e1e1e" stroke-width="0.8"/>
<line x1="375.3" y1="74.4" x2="377" y2="74.4" stroke="#1e1e1e" stroke-width="0.8"/>
<line x1="373.5" y1="71.4" x2="377" y2="71.4" stroke="#1e1e1e" stroke-width="0.9"/>
<text x="370.8" y="73.49" font-size="5.8" stroke="#262626" stroke-width="0.2" text-anchor="end" fill="#262626">50</text>
<line x1="375.3" y1="68.4" x2="377" y2="68.4" stroke="#1e1e1e" stroke-width="0.8"/>
<line x1="375.3" y1="65.4" x2="377" y2="65.4" stroke="#1e1e1e" stroke-width="0.8"/>
<line x1="375.3" y1="62.4" x2="377" y2="62.4" stroke="#1e1e1e" stroke-width="0.8"/>
<line x1="375.3" y1="59.4" x2="377" y2="59.4" stroke="#1e1e1e" stroke-width="0.8"/>
<line x1="375.3" y1="56.4" x2="377" y2="56.4" stroke="#1e1e1e" stroke-width="0.8"/>
<line x1="375.3" y1="53.4" x2="377" y2="53.4" stroke="#1e1e1e" stroke-width="0.8"/>
<line x1="375.3" y1="50.4" x2="377" y2="50.4" stroke="#1e1e1e" stroke-width="0.8"/>
<line x1="375.3" y1="47.4" x2="377" y2="47.4" stroke="#1e1e1e" stroke-width="0.8"/>
<line x1="375.3" y1="44.4" x2="377" y2="44.4" stroke="#1e1e1e" stroke-width="0.8"/>
<line x1="373.5" y1="41.4" x2="377" y2="41.4" stroke="#1e1e1e" stroke-width="0.9"/>
<text x="370.8" y="43.49" font-size="5.8" stroke="#262626" stroke-width="0.2" text-anchor="end" fill="#262626">100</text>
<line x1="375.3" y1="38.4" x2="377" y2="38.4" stroke="#1e1e1e" stroke-width="0.8"/>
<line x1="375.3" y1="35.4" x2="377" y2="35.4" stroke="#1e1e1e" stroke-width="0.8"/>
<line x1="375.3" y1="32.4" x2="377" y2="32.4" stroke="#1e1e1e" stroke-width="0.8"/>
<line x1="375.3" y1="29.4" x2="377" y2="29.4" stroke="#1e1e1e" stroke-width="0.8"/>
<line x1="376.5" y1="101.4" x2="513" y2="101.4" stroke="#1e1e1e" stroke-width="1.1"/>
<line x1="379.2" y1="34.4" x2="421.2" y2="34.4" stroke="#3a3a3a" stroke-width="0.7"/>
<line x1="379.2" y1="32" x2="379.2" y2="36.8" stroke="#3a3a3a" stroke-width="0.7"/>
<line x1="421.2" y1="32" x2="421.2" y2="36.8" stroke="#3a3a3a" stroke-width="0.7"/>
<text x="400.2" y="30.09" font-size="5.8" stroke="#333" stroke-width="0.08" text-anchor="middle" fill="#333">2.5 mM</text>
<line x1="423.8" y1="34.4" x2="465.6" y2="34.4" stroke="#3a3a3a" stroke-width="0.7"/>
<line x1="423.8" y1="32" x2="423.8" y2="36.8" stroke="#3a3a3a" stroke-width="0.7"/>
<line x1="465.6" y1="32" x2="465.6" y2="36.8" stroke="#3a3a3a" stroke-width="0.7"/>
<text x="444.5" y="30.09" font-size="5.8" stroke="#333" stroke-width="0.08" text-anchor="middle" fill="#333">5 mM</text>
<line x1="468.7" y1="34.4" x2="511" y2="34.4" stroke="#3a3a3a" stroke-width="0.7"/>
<line x1="468.7" y1="32" x2="468.7" y2="36.8" stroke="#3a3a3a" stroke-width="0.7"/>
<line x1="511" y1="32" x2="511" y2="36.8" stroke="#3a3a3a" stroke-width="0.7"/>
<text x="489.8" y="30.09" font-size="5.8" stroke="#333" stroke-width="0.08" text-anchor="middle" fill="#333">7.5 mM</text>
<line x1="382.9" y1="91.5" x2="382.9" y2="92.1" stroke="#d00a26" stroke-width="0.85"/>
<line x1="381.6" y1="91.5" x2="384.2" y2="91.5" stroke="#d00a26" stroke-width="0.85"/>
<rect x="380.05" y="92.1" width="5.7" height="9.3" fill="#d00a26" />
<line x1="388.6" y1="96" x2="388.6" y2="96.9" stroke="#1a4c8c" stroke-width="0.85"/>
<line x1="387.3" y1="96" x2="389.9" y2="96" stroke="#1a4c8c" stroke-width="0.85"/>
<rect x="385.75" y="96.9" width="5.7" height="4.5" fill="#1a4c8c" />
<circle cx="388.6" cy="83.5" r="0.95" fill="#333"/>
<circle cx="388.6" cy="88.3" r="0.95" fill="#333"/>
<line x1="394.3" y1="94.2" x2="394.3" y2="95.7" stroke="#33b233" stroke-width="0.85"/>
<line x1="393" y1="94.2" x2="395.6" y2="94.2" stroke="#33b233" stroke-width="0.85"/>
<rect x="391.45" y="95.7" width="5.7" height="5.7" fill="#33b233" />
<circle cx="394.3" cy="88.4" r="0.95" fill="#333"/>
<line x1="388.6" y1="101.4" x2="388.6" y2="104.4" stroke="#1e1e1e" stroke-width="0.9"/>
<text x="388.6" y="112.89" font-size="5.8" stroke="#262626" stroke-width="0.2" text-anchor="middle" fill="#262626">1</text>
<text x="0" y="0" transform="translate(390.87,117.3) rotate(-90)" font-size="6.3" font-weight="normal" fill="#2a2a2a" text-anchor="end" stroke="#2a2a2a" stroke-width="0.06" textLength="15.3" lengthAdjust="spacingAndGlyphs">MINO</text>
<line x1="405.5" y1="91.5" x2="405.5" y2="92.1" stroke="#d00a26" stroke-width="0.85"/>
<line x1="404.2" y1="91.5" x2="406.8" y2="91.5" stroke="#d00a26" stroke-width="0.85"/>
<rect x="402.65" y="92.1" width="5.7" height="9.3" fill="#d00a26" />
<line x1="411.2" y1="91.5" x2="411.2" y2="95.4" stroke="#1a4c8c" stroke-width="0.85"/>
<line x1="409.9" y1="91.5" x2="412.5" y2="91.5" stroke="#1a4c8c" stroke-width="0.85"/>
<rect x="408.35" y="95.4" width="5.7" height="6" fill="#1a4c8c" />
<line x1="416.9" y1="99" x2="416.9" y2="99.3" stroke="#33b233" stroke-width="0.85"/>
<line x1="415.6" y1="99" x2="418.2" y2="99" stroke="#33b233" stroke-width="0.85"/>
<rect x="414.05" y="99.3" width="5.7" height="2.1" fill="#33b233" />
<circle cx="416.9" cy="73.7" r="0.95" fill="#333"/>
<circle cx="416.9" cy="78" r="0.95" fill="#333"/>
<circle cx="416.9" cy="82.2" r="0.95" fill="#333"/>
<circle cx="416.9" cy="86.4" r="0.95" fill="#333"/>
<line x1="411.2" y1="101.4" x2="411.2" y2="104.4" stroke="#1e1e1e" stroke-width="0.9"/>
<text x="411.2" y="112.89" font-size="5.8" stroke="#262626" stroke-width="0.2" text-anchor="middle" fill="#262626">2</text>
<text x="0" y="0" transform="translate(413.47,117.3) rotate(-90)" font-size="6.3" font-weight="normal" fill="#2a2a2a" text-anchor="end" stroke="#2a2a2a" stroke-width="0.06" textLength="19.21" lengthAdjust="spacingAndGlyphs">UPF1H</text>
<line x1="428.1" y1="87.3" x2="428.1" y2="88.2" stroke="#d00a26" stroke-width="0.85"/>
<line x1="426.8" y1="87.3" x2="429.4" y2="87.3" stroke="#d00a26" stroke-width="0.85"/>
<rect x="425.25" y="88.2" width="5.7" height="13.2" fill="#d00a26" />
<line x1="433.8" y1="92.1" x2="433.8" y2="93.9" stroke="#1a4c8c" stroke-width="0.85"/>
<line x1="432.5" y1="92.1" x2="435.1" y2="92.1" stroke="#1a4c8c" stroke-width="0.85"/>
<rect x="430.95" y="93.9" width="5.7" height="7.5" fill="#1a4c8c" />
<circle cx="433.8" cy="84.3" r="0.95" fill="#333"/>
<circle cx="433.8" cy="88.2" r="0.95" fill="#333"/>
<line x1="439.5" y1="90.6" x2="439.5" y2="93" stroke="#33b233" stroke-width="0.85"/>
<line x1="438.2" y1="90.6" x2="440.8" y2="90.6" stroke="#33b233" stroke-width="0.85"/>
<rect x="436.65" y="93" width="5.7" height="8.4" fill="#33b233" />
<circle cx="439.5" cy="87.3" r="0.95" fill="#333"/>
<line x1="433.8" y1="101.4" x2="433.8" y2="104.4" stroke="#1e1e1e" stroke-width="0.9"/>
<text x="433.8" y="112.89" font-size="5.8" stroke="#262626" stroke-width="0.2" text-anchor="middle" fill="#262626">3</text>
<text x="0" y="0" transform="translate(436.07,117.3) rotate(-90)" font-size="6.3" font-weight="normal" fill="#2a2a2a" text-anchor="end" stroke="#2a2a2a" stroke-width="0.06" textLength="15.3" lengthAdjust="spacingAndGlyphs">MINO</text>
<line x1="450.7" y1="77.4" x2="450.7" y2="79.2" stroke="#d00a26" stroke-width="0.85"/>
<line x1="449.4" y1="77.4" x2="452" y2="77.4" stroke="#d00a26" stroke-width="0.85"/>
<rect x="447.85" y="79.2" width="5.7" height="22.2" fill="#d00a26" />
<line x1="456.4" y1="79.8" x2="456.4" y2="86.4" stroke="#1a4c8c" stroke-width="0.85"/>
<line x1="455.1" y1="79.8" x2="457.7" y2="79.8" stroke="#1a4c8c" stroke-width="0.85"/>
<rect x="453.55" y="86.4" width="5.7" height="15" fill="#1a4c8c" />
<line x1="462.1" y1="95.1" x2="462.1" y2="96.3" stroke="#33b233" stroke-width="0.85"/>
<line x1="460.8" y1="95.1" x2="463.4" y2="95.1" stroke="#33b233" stroke-width="0.85"/>
<rect x="459.25" y="96.3" width="5.7" height="5.1" fill="#33b233" />
<circle cx="462.1" cy="82.2" r="0.95" fill="#333"/>
<circle cx="462.1" cy="86.6" r="0.95" fill="#333"/>
<line x1="456.4" y1="101.4" x2="456.4" y2="104.4" stroke="#1e1e1e" stroke-width="0.9"/>
<text x="456.4" y="112.89" font-size="5.8" stroke="#262626" stroke-width="0.2" text-anchor="middle" fill="#262626">4</text>
<text x="0" y="0" transform="translate(458.67,117.3) rotate(-90)" font-size="6.3" font-weight="normal" fill="#2a2a2a" text-anchor="end" stroke="#2a2a2a" stroke-width="0.06" textLength="19.21" lengthAdjust="spacingAndGlyphs">UPF1H</text>
<line x1="473.3" y1="83.4" x2="473.3" y2="84.6" stroke="#d00a26" stroke-width="0.85"/>
<line x1="472" y1="83.4" x2="474.6" y2="83.4" stroke="#d00a26" stroke-width="0.85"/>
<rect x="470.45" y="84.6" width="5.7" height="16.8" fill="#d00a26" />
<line x1="479" y1="90" x2="479" y2="91.8" stroke="#1a4c8c" stroke-width="0.85"/>
<line x1="477.7" y1="90" x2="480.3" y2="90" stroke="#1a4c8c" stroke-width="0.85"/>
<rect x="476.15" y="91.8" width="5.7" height="9.6" fill="#1a4c8c" />
<circle cx="479" cy="81.8" r="0.95" fill="#333"/>
<circle cx="479" cy="86.4" r="0.95" fill="#333"/>
<line x1="484.7" y1="86.4" x2="484.7" y2="88.2" stroke="#33b233" stroke-width="0.85"/>
<line x1="483.4" y1="86.4" x2="486" y2="86.4" stroke="#33b233" stroke-width="0.85"/>
<rect x="481.85" y="88.2" width="5.7" height="13.2" fill="#33b233" />
<line x1="479" y1="101.4" x2="479" y2="104.4" stroke="#1e1e1e" stroke-width="0.9"/>
<text x="479" y="112.89" font-size="5.8" stroke="#262626" stroke-width="0.2" text-anchor="middle" fill="#262626">5</text>
<text x="0" y="0" transform="translate(481.27,117.3) rotate(-90)" font-size="6.3" font-weight="normal" fill="#2a2a2a" text-anchor="end" stroke="#2a2a2a" stroke-width="0.06" textLength="15.3" lengthAdjust="spacingAndGlyphs">MINO</text>
<line x1="495.9" y1="65.4" x2="495.9" y2="67.8" stroke="#d00a26" stroke-width="0.85"/>
<line x1="494.6" y1="65.4" x2="497.2" y2="65.4" stroke="#d00a26" stroke-width="0.85"/>
<rect x="493.05" y="67.8" width="5.7" height="33.6" fill="#d00a26" />
<line x1="501.6" y1="75.3" x2="501.6" y2="79.8" stroke="#1a4c8c" stroke-width="0.85"/>
<line x1="500.3" y1="75.3" x2="502.9" y2="75.3" stroke="#1a4c8c" stroke-width="0.85"/>
<rect x="498.75" y="79.8" width="5.7" height="21.6" fill="#1a4c8c" />
<circle cx="501.6" cy="70.4" r="0.95" fill="#333"/>
<line x1="507.3" y1="89.7" x2="507.3" y2="92.4" stroke="#33b233" stroke-width="0.85"/>
<line x1="506" y1="89.7" x2="508.6" y2="89.7" stroke="#33b233" stroke-width="0.85"/>
<rect x="504.45" y="92.4" width="5.7" height="9" fill="#33b233" />
<circle cx="507.3" cy="81.3" r="0.95" fill="#333"/>
<circle cx="507.3" cy="85.6" r="0.95" fill="#333"/>
<line x1="501.6" y1="101.4" x2="501.6" y2="104.4" stroke="#1e1e1e" stroke-width="0.9"/>
<text x="501.6" y="112.89" font-size="5.8" stroke="#262626" stroke-width="0.2" text-anchor="middle" fill="#262626">6</text>
<text x="0" y="0" transform="translate(503.87,117.3) rotate(-90)" font-size="6.3" font-weight="normal" fill="#2a2a2a" text-anchor="end" stroke="#2a2a2a" stroke-width="0.06" textLength="19.21" lengthAdjust="spacingAndGlyphs">UPF1H</text>
<rect x="385.2" y="141.15" width="8.9" height="4.3" fill="#d00a26" />
<text x="397.3" y="145.68" font-size="6.6" stroke="#222" stroke-width="0.1" fill="#222" textLength="14.4" lengthAdjust="spacingAndGlyphs">CTRL</text>
<rect x="418.4" y="141.15" width="9.1" height="4.3" fill="#1a4c8c" />
<text x="429.8" y="145.68" font-size="6.6" stroke="#222" stroke-width="0.1" fill="#222" textLength="31.4" lengthAdjust="spacingAndGlyphs">PIK3CA UP</text>
<rect x="467.9" y="141.15" width="9.1" height="4.3" fill="#33b233" />
<text x="479.7" y="145.68" font-size="6.6" stroke="#222" stroke-width="0.1" fill="#222" textLength="26.3" lengthAdjust="spacingAndGlyphs">PTEN KO</text>
<text x="353.8" y="161.05" font-size="10.7" stroke="#000" stroke-width="0.3" font-weight="bold" fill="#000">F</text>
<text x="397.3" y="164.46" font-size="6" stroke="#222" stroke-width="0.04" fill="#222" textLength="87.3" lengthAdjust="spacingAndGlyphs">NORMOXIA VS HYPOXIA (72H)</text>
<line x1="385.5" y1="176.7" x2="438.6" y2="176.7" stroke="#333" stroke-width="0.75"/>
<path d="M383.5,176.7 L386.7,175.2 L386.7,178.2 Z" fill="#222"/>
<path d="M440.6,176.7 L437.4,175.2 L437.4,178.2 Z" fill="#222"/>
<line x1="446.6" y1="176.7" x2="500" y2="176.7" stroke="#333" stroke-width="0.75"/>
<path d="M444.6,176.7 L447.8,175.2 L447.8,178.2 Z" fill="#222"/>
<path d="M502,176.7 L498.8,175.2 L498.8,178.2 Z" fill="#222"/>
<text x="404.4" y="174.2" font-size="6.4" stroke="#2a2a2a" stroke-width="0.08" fill="#2a2a2a" textLength="16" lengthAdjust="spacingAndGlyphs">MINO</text>
<text x="463" y="174.2" font-size="6.4" stroke="#2a2a2a" stroke-width="0.08" fill="#2a2a2a" textLength="20.3" lengthAdjust="spacingAndGlyphs">UPF1H</text>
<text x="0" y="0" transform="translate(362,230.7) rotate(-90)" font-size="7.5" font-weight="normal" fill="#1e1e1e" stroke="#1e1e1e" stroke-width="0.2" textLength="30.9" lengthAdjust="spacingAndGlyphs">% Apoptosis</text>
<line x1="382.8" y1="243.6" x2="382.8" y2="188.9" stroke="#1e1e1e" stroke-width="1.25"/>
<line x1="379.6" y1="243.1" x2="382.8" y2="243.1" stroke="#1e1e1e" stroke-width="0.9"/>
<text x="376.6" y="245.12" font-size="5.6" stroke="#262626" stroke-width="0.2" text-anchor="end" fill="#262626">0</text>
<line x1="379.6" y1="232.34" x2="382.8" y2="232.34" stroke="#1e1e1e" stroke-width="0.9"/>
<text x="376.6" y="234.36" font-size="5.6" stroke="#262626" stroke-width="0.2" text-anchor="end" fill="#262626">20</text>
<line x1="379.6" y1="221.58" x2="382.8" y2="221.58" stroke="#1e1e1e" stroke-width="0.9"/>
<text x="376.6" y="223.6" font-size="5.6" stroke="#262626" stroke-width="0.2" text-anchor="end" fill="#262626">40</text>
<line x1="379.6" y1="210.82" x2="382.8" y2="210.82" stroke="#1e1e1e" stroke-width="0.9"/>
<text x="376.6" y="212.84" font-size="5.6" stroke="#262626" stroke-width="0.2" text-anchor="end" fill="#262626">60</text>
<line x1="379.6" y1="200.06" x2="382.8" y2="200.06" stroke="#1e1e1e" stroke-width="0.9"/>
<text x="376.6" y="202.08" font-size="5.6" stroke="#262626" stroke-width="0.2" text-anchor="end" fill="#262626">80</text>
<line x1="379.6" y1="189.3" x2="382.8" y2="189.3" stroke="#1e1e1e" stroke-width="0.9"/>
<text x="376.6" y="191.32" font-size="5.6" stroke="#262626" stroke-width="0.2" text-anchor="end" fill="#262626">100</text>
<line x1="382.3" y1="243.1" x2="499.6" y2="243.1" stroke="#1e1e1e" stroke-width="1.1"/>
<line x1="389.25" y1="231.26" x2="389.25" y2="236.11" stroke="#606060" stroke-width="0.8"/>
<line x1="387.95" y1="231.26" x2="390.55" y2="231.26" stroke="#606060" stroke-width="0.8"/>
<rect x="386.2" y="236.11" width="6.1" height="6.99" fill="#f49400" />
<line x1="395.35" y1="225.35" x2="395.35" y2="231.26" stroke="#606060" stroke-width="0.8"/>
<line x1="394.05" y1="225.35" x2="396.65" y2="225.35" stroke="#606060" stroke-width="0.8"/>
<rect x="392.3" y="231.26" width="6.1" height="11.84" fill="#2aa3e0" />
<line x1="392.3" y1="243.1" x2="392.3" y2="245.7" stroke="#1e1e1e" stroke-width="0.9"/>
<text x="392.3" y="254.09" font-size="5.8" stroke="#262626" stroke-width="0.2" text-anchor="middle" fill="#262626">1</text>
<line x1="408.71" y1="230.73" x2="408.71" y2="236.11" stroke="#606060" stroke-width="0.8"/>
<line x1="407.41" y1="230.73" x2="410.01" y2="230.73" stroke="#606060" stroke-width="0.8"/>
<rect x="405.66" y="236.11" width="6.1" height="6.99" fill="#f49400" />
<line x1="414.81" y1="228.04" x2="414.81" y2="231.8" stroke="#606060" stroke-width="0.8"/>
<line x1="413.51" y1="228.04" x2="416.11" y2="228.04" stroke="#606060" stroke-width="0.8"/>
<rect x="411.76" y="231.8" width="6.1" height="11.3" fill="#2aa3e0" />
<line x1="411.76" y1="243.1" x2="411.76" y2="245.7" stroke="#1e1e1e" stroke-width="0.9"/>
<text x="411.76" y="254.09" font-size="5.8" stroke="#262626" stroke-width="0.2" text-anchor="middle" fill="#262626">2</text>
<line x1="428.17" y1="239.17" x2="428.17" y2="239.6" stroke="#606060" stroke-width="0.8"/>
<line x1="426.87" y1="239.17" x2="429.47" y2="239.17" stroke="#606060" stroke-width="0.8"/>
<rect x="425.12" y="239.6" width="6.1" height="3.5" fill="#f49400" />
<line x1="434.27" y1="223.19" x2="434.27" y2="230.19" stroke="#606060" stroke-width="0.8"/>
<line x1="432.97" y1="223.19" x2="435.57" y2="223.19" stroke="#606060" stroke-width="0.8"/>
<rect x="431.22" y="230.19" width="6.1" height="12.91" fill="#2aa3e0" />
<line x1="431.22" y1="243.1" x2="431.22" y2="245.7" stroke="#1e1e1e" stroke-width="0.9"/>
<text x="431.22" y="254.09" font-size="5.8" stroke="#262626" stroke-width="0.2" text-anchor="middle" fill="#262626">3</text>
<line x1="447.63" y1="225.35" x2="447.63" y2="231.26" stroke="#606060" stroke-width="0.8"/>
<line x1="446.33" y1="225.35" x2="448.93" y2="225.35" stroke="#606060" stroke-width="0.8"/>
<rect x="444.58" y="231.26" width="6.1" height="11.84" fill="#f49400" />
<line x1="453.73" y1="200.6" x2="453.73" y2="204.9" stroke="#606060" stroke-width="0.8"/>
<line x1="452.43" y1="200.6" x2="455.03" y2="200.6" stroke="#606060" stroke-width="0.8"/>
<rect x="450.68" y="204.9" width="6.1" height="38.2" fill="#2aa3e0" />
<line x1="450.68" y1="243.1" x2="450.68" y2="245.7" stroke="#1e1e1e" stroke-width="0.9"/>
<text x="450.68" y="254.09" font-size="5.8" stroke="#262626" stroke-width="0.2" text-anchor="middle" fill="#262626">4</text>
<line x1="467.09" y1="225.88" x2="467.09" y2="231.26" stroke="#606060" stroke-width="0.8"/>
<line x1="465.79" y1="225.88" x2="468.39" y2="225.88" stroke="#606060" stroke-width="0.8"/>
<rect x="464.04" y="231.26" width="6.1" height="11.84" fill="#f49400" />
<line x1="473.19" y1="213.51" x2="473.19" y2="214.05" stroke="#606060" stroke-width="0.8"/>
<line x1="471.89" y1="213.51" x2="474.49" y2="213.51" stroke="#606060" stroke-width="0.8"/>
<rect x="470.14" y="214.05" width="6.1" height="29.05" fill="#2aa3e0" />
<line x1="470.14" y1="243.1" x2="470.14" y2="245.7" stroke="#1e1e1e" stroke-width="0.9"/>
<text x="470.14" y="254.09" font-size="5.8" stroke="#262626" stroke-width="0.2" text-anchor="middle" fill="#262626">5</text>
<line x1="486.55" y1="237.18" x2="486.55" y2="239.87" stroke="#606060" stroke-width="0.8"/>
<line x1="485.25" y1="237.18" x2="487.85" y2="237.18" stroke="#606060" stroke-width="0.8"/>
<rect x="483.5" y="239.87" width="6.1" height="3.23" fill="#f49400" />
<line x1="492.65" y1="230.73" x2="492.65" y2="233.95" stroke="#606060" stroke-width="0.8"/>
<line x1="491.35" y1="230.73" x2="493.95" y2="230.73" stroke="#606060" stroke-width="0.8"/>
<rect x="489.6" y="233.95" width="6.1" height="9.15" fill="#2aa3e0" />
<line x1="489.6" y1="243.1" x2="489.6" y2="245.7" stroke="#1e1e1e" stroke-width="0.9"/>
<text x="489.6" y="254.09" font-size="5.8" stroke="#262626" stroke-width="0.2" text-anchor="middle" fill="#262626">6</text>
<text x="0" y="0" transform="translate(394.42,258.5) rotate(-90)" font-size="5.9" font-weight="normal" fill="#2a2a2a" text-anchor="end" stroke="#2a2a2a" stroke-width="0.06" textLength="14.64" lengthAdjust="spacingAndGlyphs">CTRL</text>
<text x="0" y="0" transform="translate(411.28,257.6) rotate(-90)" font-size="5.6" font-weight="normal" fill="#2a2a2a" text-anchor="end" stroke="#2a2a2a" stroke-width="0.06" textLength="17.93" lengthAdjust="spacingAndGlyphs">PIK3CA</text>
<text x="0" y="0" transform="translate(417.08,257.6) rotate(-90)" font-size="5.6" font-weight="normal" fill="#2a2a2a" text-anchor="end" stroke="#2a2a2a" stroke-width="0.06">UP</text>
<text x="0" y="0" transform="translate(430.74,257.6) rotate(-90)" font-size="5.6" font-weight="normal" fill="#2a2a2a" text-anchor="end" stroke="#2a2a2a" stroke-width="0.06" textLength="14.19" lengthAdjust="spacingAndGlyphs">PTEN</text>
<text x="0" y="0" transform="translate(436.54,257.6) rotate(-90)" font-size="5.6" font-weight="normal" fill="#2a2a2a" text-anchor="end" stroke="#2a2a2a" stroke-width="0.06">KO</text>
<text x="0" y="0" transform="translate(452.8,258.5) rotate(-90)" font-size="5.9" font-weight="normal" fill="#2a2a2a" text-anchor="end" stroke="#2a2a2a" stroke-width="0.06" textLength="14.64" lengthAdjust="spacingAndGlyphs">CTRL</text>
<text x="0" y="0" transform="translate(469.66,257.6) rotate(-90)" font-size="5.6" font-weight="normal" fill="#2a2a2a" text-anchor="end" stroke="#2a2a2a" stroke-width="0.06" textLength="17.93" lengthAdjust="spacingAndGlyphs">PIK3CA</text>
<text x="0" y="0" transform="translate(475.46,257.6) rotate(-90)" font-size="5.6" font-weight="normal" fill="#2a2a2a" text-anchor="end" stroke="#2a2a2a" stroke-width="0.06">UP</text>
<text x="0" y="0" transform="translate(489.12,257.6) rotate(-90)" font-size="5.6" font-weight="normal" fill="#2a2a2a" text-anchor="end" stroke="#2a2a2a" stroke-width="0.06" textLength="14.19" lengthAdjust="spacingAndGlyphs">PTEN</text>
<text x="0" y="0" transform="translate(494.92,257.6) rotate(-90)" font-size="5.6" font-weight="normal" fill="#2a2a2a" text-anchor="end" stroke="#2a2a2a" stroke-width="0.06">KO</text>
<polyline points="453.98,191.8 453.98,185.1 492.9,185.1 492.9,225" fill="none" stroke="#555" stroke-width="0.7"/>
<polyline points="453.98,196 453.98,193.4 473.44,193.4 473.44,211" fill="none" stroke="#555" stroke-width="0.7"/>
<text x="473.44" y="185.34" font-size="6.5" stroke="#333" stroke-width="0.2" text-anchor="middle" fill="#333">**</text>
<text x="463.71" y="193.34" font-size="6.5" stroke="#333" stroke-width="0.2" text-anchor="middle" fill="#333">*</text>
<rect x="391.6" y="284.05" width="8.7" height="4.3" fill="#f49400" />
<text x="402" y="288.58" font-size="6.6" stroke="#222" stroke-width="0.1" fill="#222" textLength="34.3" lengthAdjust="spacingAndGlyphs">NORMOXIA</text>
<rect x="442" y="284.05" width="8.5" height="4.3" fill="#2aa3e0" />
<text x="453.6" y="288.58" font-size="6.6" stroke="#222" stroke-width="0.1" fill="#222" textLength="37.4" lengthAdjust="spacingAndGlyphs">1% HYPOXIA</text>
<text x="376.6" y="349.75" font-size="10.7" stroke="#000" stroke-width="0.3" font-weight="bold" fill="#000">G</text>
<defs><filter id="bl" x="-20%" y="-50%" width="140%" height="200%"><feGaussianBlur stdDeviation="0.45"/></filter><filter id="bl2" x="-20%" y="-50%" width="140%" height="200%"><feGaussianBlur stdDeviation="0.8"/></filter></defs>
<rect x="407.5" y="375.3" width="81.8" height="11.8" fill="#f6f6f6" />
<rect x="407.5" y="387.1" width="81.8" height="11.2" fill="#f2f2f2" />
<rect x="409" y="378.2" width="7.2" height="6" rx="3" fill="#050505" opacity="1" filter="url(#bl)"/>
<rect x="417.6" y="378.9" width="7.6" height="4.6" rx="2.3" fill="#0a0a0a" opacity="1" filter="url(#bl)"/>
<rect x="426.2" y="378.7" width="7.8" height="5" rx="2.5" fill="#080808" opacity="1" filter="url(#bl)"/>
<rect x="435.3" y="378.3" width="8.3" height="5.8" rx="2.9" fill="#050505" opacity="1" filter="url(#bl)"/>
<rect x="452.8" y="380.2" width="7" height="2" rx="1" fill="#2a2a2a" opacity="1" filter="url(#bl)"/>
<rect x="462.4" y="380.5" width="6.4" height="1.4" rx="0.7" fill="#8a8a8a" opacity="1" filter="url(#bl)"/>
<rect x="470.4" y="379.2" width="7.6" height="4" rx="2" fill="#101010" opacity="1" filter="url(#bl)"/>
<rect x="479" y="378.6" width="8.6" height="5.2" rx="2.6" fill="#080808" opacity="1" filter="url(#bl)"/>
<path d="M410,392 Q424,388.6 440,389.6" stroke="#aaa" stroke-width="2.4" fill="none" filter="url(#bl2)"/>
<path d="M409.5,393.8 Q418,392.6 426,391.9 T446,392.3" stroke="#1a1a1a" stroke-width="2.3" fill="none" stroke-linecap="round" filter="url(#bl)"/>
<rect x="450.5" y="390.9" width="38.5" height="2.4" rx="1.2" fill="#333" opacity="1" filter="url(#bl)"/>
<line x1="409" y1="395.3" x2="489" y2="395.3" stroke="#d8d8d8" stroke-width="0.9"/>
<rect x="407.5" y="375.3" width="81.8" height="23" fill="none" stroke="#333" stroke-width="0.75"/>
<rect x="407.5" y="386.3" width="81.8" height="1.3" fill="#8a8a8a" />
<text x="385.5" y="383.77" font-size="6.3" stroke="#222" stroke-width="0.05" fill="#222" textLength="19.1" lengthAdjust="spacingAndGlyphs">HIF1-α</text>
<text x="385.5" y="395.07" font-size="6.3" stroke="#222" stroke-width="0.05" fill="#222" textLength="19.1" lengthAdjust="spacingAndGlyphs">β-Actin</text>
<polyline points="408.7,371.1 408.7,368.8 423,368.8 423,371.1" fill="none" stroke="#444" stroke-width="0.65"/>
<polyline points="427,371.1 427,368.8 441.3,368.8 441.3,371.1" fill="none" stroke="#444" stroke-width="0.65"/>
<polyline points="453.8,371.1 453.8,368.8 468.3,368.8 468.3,371.1" fill="none" stroke="#444" stroke-width="0.65"/>
<polyline points="472.7,371.1 472.7,368.8 488.5,368.8 488.5,371.1" fill="none" stroke="#444" stroke-width="0.65"/>
<text x="0" y="0" transform="translate(417.56,365.2) rotate(-90)" font-size="6" fill="#222" stroke="#222" stroke-width="0.2" textLength="14.6" lengthAdjust="spacingAndGlyphs">CTRL</text>
<text x="0" y="0" transform="translate(434.36,365.2) rotate(-90)" font-size="6" fill="#222" stroke="#222" stroke-width="0.2" textLength="14.6" lengthAdjust="spacingAndGlyphs">PTEN</text>
<text x="0" y="0" transform="translate(441.66,365.2) rotate(-90)" font-size="6" fill="#222" stroke="#222" stroke-width="0.2" textLength="7.8" lengthAdjust="spacingAndGlyphs">KO</text>
<text x="0" y="0" transform="translate(463.36,365.2) rotate(-90)" font-size="6" fill="#222" stroke="#222" stroke-width="0.2" textLength="14.6" lengthAdjust="spacingAndGlyphs">CTRL</text>
<text x="0" y="0" transform="translate(479.36,365.2) rotate(-90)" font-size="6" fill="#222" stroke="#222" stroke-width="0.2" textLength="14.6" lengthAdjust="spacingAndGlyphs">PTEN</text>
<text x="0" y="0" transform="translate(486.66,365.2) rotate(-90)" font-size="6" fill="#222" stroke="#222" stroke-width="0.2" textLength="7.8" lengthAdjust="spacingAndGlyphs">KO</text>
<polyline points="407.7,400.8 407.7,405 446.5,405 446.5,400.8" fill="none" stroke="#444" stroke-width="0.65"/>
<line x1="427.1" y1="405" x2="427.1" y2="406.6" stroke="#444" stroke-width="0.65"/>
<polyline points="451.5,400.8 451.5,405 490,405 490,400.8" fill="none" stroke="#444" stroke-width="0.65"/>
<line x1="470.75" y1="405" x2="470.75" y2="406.6" stroke="#444" stroke-width="0.65"/>
<text x="419.2" y="414.17" font-size="6.3" stroke="#1a1a1a" stroke-width="0.2" fill="#1a1a1a" textLength="16.4" lengthAdjust="spacingAndGlyphs">MINO</text>
<text x="461.2" y="414.17" font-size="6.3" stroke="#1a1a1a" stroke-width="0.2" fill="#1a1a1a" textLength="18.6" lengthAdjust="spacingAndGlyphs">UPF1H</text>
<rect x="407.4" y="459.2" width="40.9" height="11.8" fill="#bdbdbd" />
<rect x="448.3" y="459.2" width="40.6" height="11.8" fill="#aeaeae" />
<rect x="407.4" y="471" width="40.9" height="11.7" fill="#fbfbfb" />
<rect x="448.3" y="471" width="40.6" height="11.7" fill="#e6e6e6" />
<rect x="448.3" y="471.3" width="40.6" height="3" fill="#fafafa" />
<rect x="408.2" y="464.2" width="8.2" height="3.2" rx="1.6" fill="#121212" opacity="1" filter="url(#bl)"/>
<rect x="418.4" y="464.4" width="7.8" height="2.8" rx="1.4" fill="#1a1a1a" opacity="1" filter="url(#bl)"/>
<rect x="428.6" y="464.7" width="8.2" height="2.2" rx="1.1" fill="#555" opacity="1" filter="url(#bl)"/>
<rect x="438.6" y="463.8" width="9.2" height="4" rx="2" fill="#0a0a0a" opacity="1" filter="url(#bl)"/>
<rect x="449.3" y="464.1" width="6.5" height="3.4" rx="1.7" fill="#151515" opacity="1" filter="url(#bl)"/>
<rect x="459.2" y="464.6" width="7" height="2.4" rx="1.2" fill="#2a2a2a" opacity="1" filter="url(#bl)"/>
<rect x="468.7" y="463.9" width="8.3" height="3.8" rx="1.9" fill="#121212" opacity="1" filter="url(#bl)"/>
<rect x="480" y="463.6" width="8.2" height="4.4" rx="2.2" fill="#0a0a0a" opacity="1" filter="url(#bl)"/>
<path d="M409.5,476.4 C413,476.2 416,476.2 418,477.2 C420,478.6 424,478.8 427,477.6 C430,477.4 433,478.6 436,477.6 C439,476.6 443,476.6 447,476.0" stroke="#0a0a0a" stroke-width="2.9" fill="none" stroke-linecap="round" filter="url(#bl)"/>
<rect x="449" y="475.6" width="39.6" height="6.4" fill="#7a7a7a" filter="url(#bl2)"/>
<path d="M449.5,478.4 Q460,479.0 468,477.8 T488,477.4" stroke="#262626" stroke-width="3.4" fill="none" filter="url(#bl2)"/>
<rect x="407.4" y="459.2" width="81.5" height="23" fill="none" stroke="#333" stroke-width="0.75"/>
<rect x="407.4" y="470.4" width="81.5" height="1.3" fill="#777" />
<line x1="448.3" y1="459.2" x2="448.3" y2="482.2" stroke="#222" stroke-width="0.8"/>
<text x="385.5" y="468.07" font-size="6.3" stroke="#222" stroke-width="0.05" fill="#222" textLength="19.1" lengthAdjust="spacingAndGlyphs">HIF1-α</text>
<text x="385.5" y="478.97" font-size="6.3" stroke="#222" stroke-width="0.05" fill="#222" textLength="19.1" lengthAdjust="spacingAndGlyphs">β-Actin</text>
<polyline points="408,454.7 408,452.4 427,452.4 427,454.7" fill="none" stroke="#444" stroke-width="0.65"/>
<polyline points="429.2,454.7 429.2,452.4 447,452.4 447,454.7" fill="none" stroke="#444" stroke-width="0.65"/>
<polyline points="449.6,454.7 449.6,452.4 467.3,452.4 467.3,454.7" fill="none" stroke="#444" stroke-width="0.65"/>
<polyline points="470.2,454.7 470.2,452.4 488.5,452.4 488.5,454.7" fill="none" stroke="#444" stroke-width="0.65"/>
<text x="0" y="0" transform="translate(415.96,448.5) rotate(-90)" font-size="6" fill="#222" stroke="#222" stroke-width="0.2" textLength="14.8" lengthAdjust="spacingAndGlyphs">CTRL</text>
<text x="0" y="0" transform="translate(432.86,448.5) rotate(-90)" font-size="6" fill="#222" stroke="#222" stroke-width="0.2" textLength="20.4" lengthAdjust="spacingAndGlyphs">PIK3CA</text>
<text x="0" y="0" transform="translate(439.76,448.5) rotate(-90)" font-size="6" fill="#222" stroke="#222" stroke-width="0.2" textLength="7.4" lengthAdjust="spacingAndGlyphs">UP</text>
<text x="0" y="0" transform="translate(462.76,448.5) rotate(-90)" font-size="6" fill="#222" stroke="#222" stroke-width="0.2" textLength="14.8" lengthAdjust="spacingAndGlyphs">CTRL</text>
<text x="0" y="0" transform="translate(478.36,448.5) rotate(-90)" font-size="6" fill="#222" stroke="#222" stroke-width="0.2" textLength="20.4" lengthAdjust="spacingAndGlyphs">PIK3CA</text>
<text x="0" y="0" transform="translate(485.56,448.5) rotate(-90)" font-size="6" fill="#222" stroke="#222" stroke-width="0.2" textLength="7.4" lengthAdjust="spacingAndGlyphs">UP</text>
<polyline points="407.7,484.4 407.7,488.6 447.6,488.6 447.6,484.4" fill="none" stroke="#444" stroke-width="0.65"/>
<line x1="427.65" y1="488.6" x2="427.65" y2="490.2" stroke="#444" stroke-width="0.65"/>
<polyline points="447.6,484.4 447.6,488.6 488.5,488.6 488.5,484.4" fill="none" stroke="#444" stroke-width="0.65"/>
<line x1="468.05" y1="488.6" x2="468.05" y2="490.2" stroke="#444" stroke-width="0.65"/>
<text x="419.2" y="497.57" font-size="6.3" stroke="#1a1a1a" stroke-width="0.2" fill="#1a1a1a" textLength="16.4" lengthAdjust="spacingAndGlyphs">MINO</text>
<text x="458.7" y="497.57" font-size="6.3" stroke="#1a1a1a" stroke-width="0.2" fill="#1a1a1a" textLength="19.2" lengthAdjust="spacingAndGlyphs">UPF1H</text>
<rect x="0" y="0" width="520" height="1" fill="#6a6a6a" />
<rect x="0" y="0" width="1.1" height="566" fill="#6a6a6a" />
<rect x="518.7" y="0" width="1.3" height="566" fill="#4a4a4a" />
<rect x="0" y="564.4" width="520" height="1.6" fill="#444" /></svg>
</body></html>
